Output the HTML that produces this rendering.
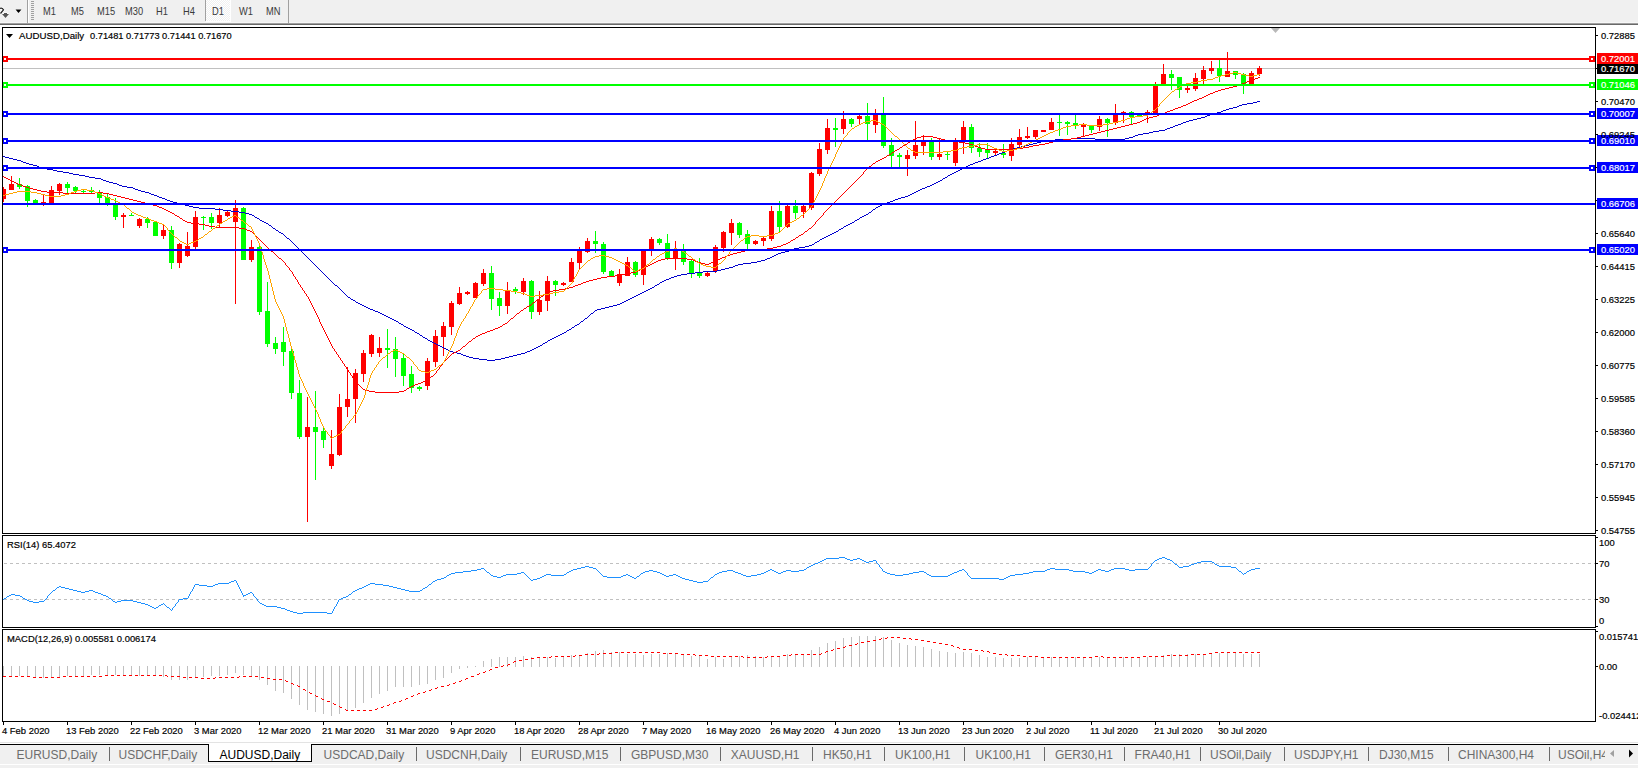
<!DOCTYPE html>
<html><head><meta charset="utf-8"><style>
html,body{margin:0;padding:0;width:1638px;height:768px;overflow:hidden;background:#FFFFFF;position:relative;font-family:"Liberation Sans", sans-serif}
</style></head><body>
<div style="position:absolute;left:0;top:0;width:1638px;height:23px;background:#F0F0F0"></div><div style="position:absolute;left:0;top:22px;width:1638px;height:1px;background:#F7F7F7"></div><div style="position:absolute;left:0;top:23px;width:1638px;height:1px;background:#A0A0A0"></div><div style="position:absolute;left:0;top:24px;width:1638px;height:1px;background:#696969"></div><div style="position:absolute;left:27px;top:0;width:1px;height:23px;background:#A0A0A0"></div><div style="position:absolute;left:28px;top:0;width:1px;height:23px;background:#FFFFFF"></div><div style="position:absolute;left:288px;top:0;width:1px;height:23px;background:#A0A0A0"></div><div style="position:absolute;left:31px;top:1px;width:3px;height:1px;background:#A0A0A0"></div><div style="position:absolute;left:31px;top:3px;width:3px;height:1px;background:#A0A0A0"></div><div style="position:absolute;left:31px;top:5px;width:3px;height:1px;background:#A0A0A0"></div><div style="position:absolute;left:31px;top:7px;width:3px;height:1px;background:#A0A0A0"></div><div style="position:absolute;left:31px;top:9px;width:3px;height:1px;background:#A0A0A0"></div><div style="position:absolute;left:31px;top:11px;width:3px;height:1px;background:#A0A0A0"></div><div style="position:absolute;left:31px;top:13px;width:3px;height:1px;background:#A0A0A0"></div><div style="position:absolute;left:31px;top:15px;width:3px;height:1px;background:#A0A0A0"></div><div style="position:absolute;left:31px;top:17px;width:3px;height:1px;background:#A0A0A0"></div><div style="position:absolute;left:31px;top:19px;width:3px;height:1px;background:#A0A0A0"></div><div style="position:absolute;left:205px;top:0;width:1px;height:21px;background:#A0A0A0"></div><svg width="26" height="22" style="position:absolute;left:206px;top:0"><defs><pattern id="chk" width="2" height="2" patternUnits="userSpaceOnUse"><rect width="2" height="2" fill="#F0F0F0"/><rect width="1" height="1" fill="#FFFFFF"/><rect x="1" y="1" width="1" height="1" fill="#FFFFFF"/></pattern></defs><rect x="0" y="0" width="24" height="21" fill="url(#chk)" shape-rendering="crispEdges"/><rect x="24" y="0" width="1" height="22" fill="#FFFFFF"/><rect x="0" y="21" width="25" height="1" fill="#FFFFFF"/></svg><svg width="1638" height="30" style="position:absolute;left:0;top:0" font-family='"Liberation Sans", sans-serif'><text transform="translate(43,15) scale(0.93,1)" font-size="10" fill="#3A3A3A">M1</text><text transform="translate(71,15) scale(0.93,1)" font-size="10" fill="#3A3A3A">M5</text><text transform="translate(97,15) scale(0.93,1)" font-size="10" fill="#3A3A3A">M15</text><text transform="translate(125,15) scale(0.93,1)" font-size="10" fill="#3A3A3A">M30</text><text transform="translate(156,15) scale(0.93,1)" font-size="10" fill="#3A3A3A">H1</text><text transform="translate(183,15) scale(0.93,1)" font-size="10" fill="#3A3A3A">H4</text><text transform="translate(212,15) scale(0.93,1)" font-size="10" fill="#3A3A3A">D1</text><text transform="translate(239,15) scale(0.93,1)" font-size="10" fill="#3A3A3A">W1</text><text transform="translate(266,15) scale(0.93,1)" font-size="10" fill="#3A3A3A">MN</text><path d="M15.5,9.5 L21.5,9.5 L18.5,13 Z" fill="#000" stroke="#FFF" stroke-width="1" paint-order="stroke"/><path d="M0,8.5 Q2,7.5 3.5,9.8 L0.5,13.5" fill="none" stroke="#FFF" stroke-width="2.6"/><path d="M0,8.5 Q2,7.5 3.5,9.8 L0.5,13.5" fill="none" stroke="#222" stroke-width="1.3"/><path d="M2,14 L9,14 L5.5,18 Z M4,13 h3 v1.5 h-3 z" fill="#555" stroke="#FFF" stroke-width="1" paint-order="stroke"/></svg><svg width="1638" height="768" style="position:absolute;left:0;top:0"><defs><clipPath id="cm"><rect x="3" y="28" width="1592" height="505"/></clipPath><clipPath id="cr"><rect x="3" y="536" width="1592" height="91"/></clipPath><clipPath id="cd"><rect x="3" y="630" width="1592" height="91"/></clipPath></defs><rect x="3" y="68" width="1592" height="1" fill="#C0C0C0" shape-rendering="crispEdges"/><g clip-path="url(#cm)" shape-rendering="crispEdges"><rect x="3" y="187" width="1" height="15" fill="#FF0000"/><rect x="1" y="189" width="5" height="10" fill="#FF0000"/><rect x="11" y="176" width="1" height="14" fill="#FF0000"/><rect x="9" y="184" width="5" height="6" fill="#FF0000"/><rect x="19" y="178" width="1" height="11" fill="#00FF00"/><rect x="17" y="184" width="5" height="3" fill="#00FF00"/><rect x="27" y="185" width="1" height="22" fill="#00FF00"/><rect x="25" y="186" width="5" height="15" fill="#00FF00"/><rect x="35" y="199" width="1" height="6" fill="#00FF00"/><rect x="33" y="200" width="5" height="4" fill="#00FF00"/><rect x="43" y="194" width="1" height="12" fill="#FF0000"/><rect x="41" y="202" width="5" height="1" fill="#FF0000"/><rect x="51" y="186" width="1" height="17" fill="#FF0000"/><rect x="49" y="190" width="5" height="13" fill="#FF0000"/><rect x="59" y="183" width="1" height="12" fill="#FF0000"/><rect x="57" y="184" width="5" height="7" fill="#FF0000"/><rect x="67" y="182" width="1" height="13" fill="#00FF00"/><rect x="65" y="184" width="5" height="4" fill="#00FF00"/><rect x="75" y="186" width="1" height="7" fill="#00FF00"/><rect x="73" y="187" width="5" height="4" fill="#00FF00"/><rect x="83" y="190" width="1" height="3" fill="#00FF00"/><rect x="81" y="191" width="5" height="1" fill="#00FF00"/><rect x="91" y="187" width="1" height="6" fill="#00FF00"/><rect x="89" y="190" width="5" height="2" fill="#00FF00"/><rect x="99" y="190" width="1" height="13" fill="#00FF00"/><rect x="97" y="193" width="5" height="5" fill="#00FF00"/><rect x="107" y="194" width="1" height="12" fill="#00FF00"/><rect x="105" y="197" width="5" height="6" fill="#00FF00"/><rect x="115" y="198" width="1" height="22" fill="#00FF00"/><rect x="113" y="204" width="5" height="13" fill="#00FF00"/><rect x="123" y="213" width="1" height="15" fill="#FF0000"/><rect x="121" y="215" width="5" height="2" fill="#FF0000"/><rect x="131" y="213" width="1" height="3" fill="#00FF00"/><rect x="129" y="215" width="5" height="1" fill="#00FF00"/><rect x="139" y="218" width="1" height="10" fill="#FF0000"/><rect x="137" y="219" width="5" height="7" fill="#FF0000"/><rect x="147" y="217" width="1" height="11" fill="#00FF00"/><rect x="145" y="219" width="5" height="4" fill="#00FF00"/><rect x="155" y="221" width="1" height="15" fill="#00FF00"/><rect x="153" y="222" width="5" height="14" fill="#00FF00"/><rect x="163" y="225" width="1" height="14" fill="#FF0000"/><rect x="161" y="230" width="5" height="6" fill="#FF0000"/><rect x="171" y="226" width="1" height="43" fill="#00FF00"/><rect x="169" y="230" width="5" height="33" fill="#00FF00"/><rect x="179" y="243" width="1" height="25" fill="#FF0000"/><rect x="177" y="244" width="5" height="19" fill="#FF0000"/><rect x="187" y="232" width="1" height="25" fill="#FF0000"/><rect x="185" y="246" width="5" height="10" fill="#FF0000"/><rect x="195" y="211" width="1" height="38" fill="#FF0000"/><rect x="193" y="217" width="5" height="30" fill="#FF0000"/><rect x="203" y="216" width="1" height="14" fill="#00FF00"/><rect x="201" y="217" width="5" height="1" fill="#00FF00"/><rect x="211" y="213" width="1" height="16" fill="#00FF00"/><rect x="209" y="217" width="5" height="6" fill="#00FF00"/><rect x="219" y="208" width="1" height="20" fill="#FF0000"/><rect x="217" y="215" width="5" height="8" fill="#FF0000"/><rect x="227" y="211" width="1" height="6" fill="#FF0000"/><rect x="225" y="212" width="5" height="4" fill="#FF0000"/><rect x="235" y="200" width="1" height="104" fill="#FF0000"/><rect x="233" y="208" width="5" height="14" fill="#FF0000"/><rect x="243" y="207" width="1" height="53" fill="#00FF00"/><rect x="241" y="208" width="5" height="52" fill="#00FF00"/><rect x="251" y="240" width="1" height="22" fill="#FF0000"/><rect x="249" y="247" width="5" height="13" fill="#FF0000"/><rect x="259" y="244" width="1" height="71" fill="#00FF00"/><rect x="257" y="247" width="5" height="65" fill="#00FF00"/><rect x="267" y="282" width="1" height="65" fill="#00FF00"/><rect x="265" y="311" width="5" height="33" fill="#00FF00"/><rect x="275" y="337" width="1" height="17" fill="#00FF00"/><rect x="273" y="343" width="5" height="6" fill="#00FF00"/><rect x="283" y="327" width="1" height="39" fill="#00FF00"/><rect x="281" y="342" width="5" height="10" fill="#00FF00"/><rect x="291" y="346" width="1" height="53" fill="#00FF00"/><rect x="289" y="351" width="5" height="42" fill="#00FF00"/><rect x="299" y="380" width="1" height="59" fill="#00FF00"/><rect x="297" y="393" width="5" height="44" fill="#00FF00"/><rect x="307" y="397" width="1" height="125" fill="#FF0000"/><rect x="305" y="427" width="5" height="10" fill="#FF0000"/><rect x="315" y="391" width="1" height="89" fill="#00FF00"/><rect x="313" y="427" width="5" height="5" fill="#00FF00"/><rect x="323" y="427" width="1" height="21" fill="#00FF00"/><rect x="321" y="431" width="5" height="9" fill="#00FF00"/><rect x="331" y="430" width="1" height="39" fill="#FF0000"/><rect x="329" y="454" width="5" height="12" fill="#FF0000"/><rect x="339" y="394" width="1" height="62" fill="#FF0000"/><rect x="337" y="407" width="5" height="48" fill="#FF0000"/><rect x="347" y="367" width="1" height="50" fill="#FF0000"/><rect x="345" y="399" width="5" height="8" fill="#FF0000"/><rect x="355" y="369" width="1" height="54" fill="#FF0000"/><rect x="353" y="373" width="5" height="26" fill="#FF0000"/><rect x="363" y="350" width="1" height="32" fill="#FF0000"/><rect x="361" y="353" width="5" height="21" fill="#FF0000"/><rect x="371" y="334" width="1" height="23" fill="#FF0000"/><rect x="369" y="335" width="5" height="19" fill="#FF0000"/><rect x="379" y="337" width="1" height="20" fill="#FF0000"/><rect x="377" y="348" width="5" height="5" fill="#FF0000"/><rect x="387" y="329" width="1" height="39" fill="#00FF00"/><rect x="385" y="348" width="5" height="2" fill="#00FF00"/><rect x="395" y="337" width="1" height="40" fill="#00FF00"/><rect x="393" y="349" width="5" height="10" fill="#00FF00"/><rect x="403" y="354" width="1" height="32" fill="#00FF00"/><rect x="401" y="358" width="5" height="18" fill="#00FF00"/><rect x="411" y="366" width="1" height="27" fill="#00FF00"/><rect x="409" y="374" width="5" height="14" fill="#00FF00"/><rect x="419" y="386" width="1" height="5" fill="#00FF00"/><rect x="417" y="387" width="5" height="2" fill="#00FF00"/><rect x="427" y="358" width="1" height="32" fill="#FF0000"/><rect x="425" y="361" width="5" height="25" fill="#FF0000"/><rect x="435" y="330" width="1" height="37" fill="#FF0000"/><rect x="433" y="336" width="5" height="26" fill="#FF0000"/><rect x="443" y="322" width="1" height="34" fill="#FF0000"/><rect x="441" y="326" width="5" height="11" fill="#FF0000"/><rect x="451" y="301" width="1" height="34" fill="#FF0000"/><rect x="449" y="303" width="5" height="24" fill="#FF0000"/><rect x="459" y="287" width="1" height="18" fill="#FF0000"/><rect x="457" y="293" width="5" height="11" fill="#FF0000"/><rect x="467" y="291" width="1" height="4" fill="#FF0000"/><rect x="465" y="292" width="5" height="2" fill="#FF0000"/><rect x="475" y="282" width="1" height="16" fill="#FF0000"/><rect x="473" y="283" width="5" height="15" fill="#FF0000"/><rect x="483" y="269" width="1" height="17" fill="#FF0000"/><rect x="481" y="273" width="5" height="11" fill="#FF0000"/><rect x="491" y="266" width="1" height="44" fill="#00FF00"/><rect x="489" y="273" width="5" height="26" fill="#00FF00"/><rect x="499" y="292" width="1" height="24" fill="#00FF00"/><rect x="497" y="298" width="5" height="8" fill="#00FF00"/><rect x="507" y="282" width="1" height="32" fill="#FF0000"/><rect x="505" y="291" width="5" height="15" fill="#FF0000"/><rect x="515" y="287" width="1" height="7" fill="#00FF00"/><rect x="513" y="289" width="5" height="2" fill="#00FF00"/><rect x="523" y="278" width="1" height="17" fill="#FF0000"/><rect x="521" y="281" width="5" height="11" fill="#FF0000"/><rect x="531" y="280" width="1" height="39" fill="#00FF00"/><rect x="529" y="281" width="5" height="31" fill="#00FF00"/><rect x="539" y="291" width="1" height="24" fill="#FF0000"/><rect x="537" y="300" width="5" height="12" fill="#FF0000"/><rect x="547" y="276" width="1" height="35" fill="#FF0000"/><rect x="545" y="281" width="5" height="20" fill="#FF0000"/><rect x="555" y="280" width="1" height="16" fill="#00FF00"/><rect x="553" y="281" width="5" height="4" fill="#00FF00"/><rect x="563" y="282" width="1" height="4" fill="#FF0000"/><rect x="561" y="283" width="5" height="2" fill="#FF0000"/><rect x="571" y="258" width="1" height="24" fill="#FF0000"/><rect x="569" y="262" width="5" height="20" fill="#FF0000"/><rect x="579" y="247" width="1" height="22" fill="#FF0000"/><rect x="577" y="251" width="5" height="12" fill="#FF0000"/><rect x="587" y="238" width="1" height="15" fill="#FF0000"/><rect x="585" y="241" width="5" height="11" fill="#FF0000"/><rect x="595" y="231" width="1" height="22" fill="#00FF00"/><rect x="593" y="241" width="5" height="3" fill="#00FF00"/><rect x="603" y="242" width="1" height="32" fill="#00FF00"/><rect x="601" y="244" width="5" height="28" fill="#00FF00"/><rect x="611" y="270" width="1" height="7" fill="#00FF00"/><rect x="609" y="271" width="5" height="5" fill="#00FF00"/><rect x="619" y="269" width="1" height="17" fill="#FF0000"/><rect x="617" y="274" width="5" height="9" fill="#FF0000"/><rect x="627" y="257" width="1" height="19" fill="#FF0000"/><rect x="625" y="262" width="5" height="14" fill="#FF0000"/><rect x="635" y="261" width="1" height="16" fill="#00FF00"/><rect x="633" y="262" width="5" height="13" fill="#00FF00"/><rect x="643" y="250" width="1" height="35" fill="#FF0000"/><rect x="641" y="251" width="5" height="24" fill="#FF0000"/><rect x="651" y="237" width="1" height="19" fill="#FF0000"/><rect x="649" y="239" width="5" height="12" fill="#FF0000"/><rect x="659" y="238" width="1" height="7" fill="#00FF00"/><rect x="657" y="239" width="5" height="4" fill="#00FF00"/><rect x="667" y="234" width="1" height="26" fill="#00FF00"/><rect x="665" y="243" width="5" height="16" fill="#00FF00"/><rect x="675" y="241" width="1" height="29" fill="#FF0000"/><rect x="673" y="250" width="5" height="8" fill="#FF0000"/><rect x="683" y="244" width="1" height="21" fill="#00FF00"/><rect x="681" y="251" width="5" height="11" fill="#00FF00"/><rect x="691" y="260" width="1" height="18" fill="#00FF00"/><rect x="689" y="261" width="5" height="12" fill="#00FF00"/><rect x="699" y="258" width="1" height="20" fill="#00FF00"/><rect x="697" y="273" width="5" height="3" fill="#00FF00"/><rect x="707" y="272" width="1" height="5" fill="#FF0000"/><rect x="705" y="273" width="5" height="3" fill="#FF0000"/><rect x="715" y="245" width="1" height="28" fill="#FF0000"/><rect x="713" y="247" width="5" height="24" fill="#FF0000"/><rect x="723" y="231" width="1" height="21" fill="#FF0000"/><rect x="721" y="232" width="5" height="16" fill="#FF0000"/><rect x="731" y="219" width="1" height="26" fill="#FF0000"/><rect x="729" y="223" width="5" height="10" fill="#FF0000"/><rect x="739" y="222" width="1" height="16" fill="#00FF00"/><rect x="737" y="223" width="5" height="12" fill="#00FF00"/><rect x="747" y="230" width="1" height="19" fill="#00FF00"/><rect x="745" y="234" width="5" height="10" fill="#00FF00"/><rect x="755" y="240" width="1" height="5" fill="#FF0000"/><rect x="753" y="241" width="5" height="3" fill="#FF0000"/><rect x="763" y="237" width="1" height="9" fill="#FF0000"/><rect x="761" y="238" width="5" height="3" fill="#FF0000"/><rect x="771" y="206" width="1" height="35" fill="#FF0000"/><rect x="769" y="211" width="5" height="28" fill="#FF0000"/><rect x="779" y="201" width="1" height="31" fill="#00FF00"/><rect x="777" y="211" width="5" height="16" fill="#00FF00"/><rect x="787" y="205" width="1" height="23" fill="#FF0000"/><rect x="785" y="206" width="5" height="21" fill="#FF0000"/><rect x="795" y="200" width="1" height="19" fill="#00FF00"/><rect x="793" y="206" width="5" height="7" fill="#00FF00"/><rect x="803" y="205" width="1" height="13" fill="#FF0000"/><rect x="801" y="206" width="5" height="6" fill="#FF0000"/><rect x="811" y="172" width="1" height="38" fill="#FF0000"/><rect x="809" y="173" width="5" height="35" fill="#FF0000"/><rect x="819" y="143" width="1" height="33" fill="#FF0000"/><rect x="817" y="149" width="5" height="25" fill="#FF0000"/><rect x="827" y="119" width="1" height="35" fill="#FF0000"/><rect x="825" y="128" width="5" height="22" fill="#FF0000"/><rect x="835" y="118" width="1" height="29" fill="#00FF00"/><rect x="833" y="128" width="5" height="2" fill="#00FF00"/><rect x="843" y="111" width="1" height="23" fill="#FF0000"/><rect x="841" y="119" width="5" height="10" fill="#FF0000"/><rect x="851" y="118" width="1" height="9" fill="#00FF00"/><rect x="849" y="119" width="5" height="5" fill="#00FF00"/><rect x="859" y="114" width="1" height="11" fill="#FF0000"/><rect x="857" y="116" width="5" height="3" fill="#FF0000"/><rect x="867" y="103" width="1" height="39" fill="#00FF00"/><rect x="865" y="116" width="5" height="8" fill="#00FF00"/><rect x="875" y="109" width="1" height="24" fill="#FF0000"/><rect x="873" y="114" width="5" height="11" fill="#FF0000"/><rect x="883" y="97" width="1" height="51" fill="#00FF00"/><rect x="881" y="114" width="5" height="32" fill="#00FF00"/><rect x="891" y="138" width="1" height="31" fill="#00FF00"/><rect x="889" y="145" width="5" height="11" fill="#00FF00"/><rect x="899" y="153" width="1" height="14" fill="#00FF00"/><rect x="897" y="155" width="5" height="2" fill="#00FF00"/><rect x="907" y="150" width="1" height="26" fill="#FF0000"/><rect x="905" y="155" width="5" height="4" fill="#FF0000"/><rect x="915" y="121" width="1" height="38" fill="#FF0000"/><rect x="913" y="145" width="5" height="11" fill="#FF0000"/><rect x="923" y="135" width="1" height="20" fill="#FF0000"/><rect x="921" y="141" width="5" height="5" fill="#FF0000"/><rect x="931" y="138" width="1" height="22" fill="#00FF00"/><rect x="929" y="141" width="5" height="16" fill="#00FF00"/><rect x="939" y="139" width="1" height="21" fill="#FF0000"/><rect x="937" y="154" width="5" height="3" fill="#FF0000"/><rect x="947" y="151" width="1" height="9" fill="#00FF00"/><rect x="945" y="154" width="5" height="1" fill="#00FF00"/><rect x="955" y="138" width="1" height="28" fill="#FF0000"/><rect x="953" y="141" width="5" height="22" fill="#FF0000"/><rect x="963" y="121" width="1" height="33" fill="#FF0000"/><rect x="961" y="127" width="5" height="14" fill="#FF0000"/><rect x="971" y="124" width="1" height="29" fill="#00FF00"/><rect x="969" y="127" width="5" height="21" fill="#00FF00"/><rect x="979" y="143" width="1" height="14" fill="#00FF00"/><rect x="977" y="148" width="5" height="4" fill="#00FF00"/><rect x="987" y="143" width="1" height="16" fill="#00FF00"/><rect x="985" y="150" width="5" height="3" fill="#00FF00"/><rect x="995" y="149" width="1" height="7" fill="#FF0000"/><rect x="993" y="151" width="5" height="2" fill="#FF0000"/><rect x="1003" y="144" width="1" height="14" fill="#00FF00"/><rect x="1001" y="153" width="5" height="2" fill="#00FF00"/><rect x="1011" y="138" width="1" height="23" fill="#FF0000"/><rect x="1009" y="144" width="5" height="12" fill="#FF0000"/><rect x="1019" y="129" width="1" height="18" fill="#FF0000"/><rect x="1017" y="137" width="5" height="8" fill="#FF0000"/><rect x="1027" y="127" width="1" height="12" fill="#FF0000"/><rect x="1025" y="136" width="5" height="2" fill="#FF0000"/><rect x="1035" y="130" width="1" height="9" fill="#FF0000"/><rect x="1033" y="130" width="5" height="7" fill="#FF0000"/><rect x="1043" y="130" width="1" height="2" fill="#FF0000"/><rect x="1041" y="130" width="5" height="2" fill="#FF0000"/><rect x="1051" y="118" width="1" height="12" fill="#FF0000"/><rect x="1049" y="122" width="5" height="8" fill="#FF0000"/><rect x="1059" y="115" width="1" height="21" fill="#00FF00"/><rect x="1057" y="122" width="5" height="1" fill="#00FF00"/><rect x="1067" y="121" width="1" height="14" fill="#00FF00"/><rect x="1065" y="122" width="5" height="2" fill="#00FF00"/><rect x="1075" y="115" width="1" height="14" fill="#00FF00"/><rect x="1073" y="123" width="5" height="3" fill="#00FF00"/><rect x="1083" y="123" width="1" height="13" fill="#FF0000"/><rect x="1081" y="125" width="5" height="2" fill="#FF0000"/><rect x="1091" y="125" width="1" height="8" fill="#00FF00"/><rect x="1089" y="126" width="5" height="4" fill="#00FF00"/><rect x="1099" y="116" width="1" height="15" fill="#FF0000"/><rect x="1097" y="119" width="5" height="8" fill="#FF0000"/><rect x="1107" y="118" width="1" height="19" fill="#00FF00"/><rect x="1105" y="119" width="5" height="4" fill="#00FF00"/><rect x="1115" y="104" width="1" height="21" fill="#FF0000"/><rect x="1113" y="115" width="5" height="8" fill="#FF0000"/><rect x="1123" y="111" width="1" height="12" fill="#FF0000"/><rect x="1121" y="112" width="5" height="1" fill="#FF0000"/><rect x="1131" y="111" width="1" height="14" fill="#00FF00"/><rect x="1129" y="112" width="5" height="5" fill="#00FF00"/><rect x="1139" y="114" width="1" height="3" fill="#00FF00"/><rect x="1137" y="114" width="5" height="2" fill="#00FF00"/><rect x="1147" y="110" width="1" height="13" fill="#FF0000"/><rect x="1145" y="112" width="5" height="1" fill="#FF0000"/><rect x="1155" y="82" width="1" height="32" fill="#FF0000"/><rect x="1153" y="86" width="5" height="28" fill="#FF0000"/><rect x="1163" y="64" width="1" height="20" fill="#FF0000"/><rect x="1161" y="74" width="5" height="10" fill="#FF0000"/><rect x="1171" y="70" width="1" height="20" fill="#00FF00"/><rect x="1169" y="74" width="5" height="4" fill="#00FF00"/><rect x="1179" y="77" width="1" height="21" fill="#00FF00"/><rect x="1177" y="77" width="5" height="13" fill="#00FF00"/><rect x="1187" y="86" width="1" height="7" fill="#FF0000"/><rect x="1185" y="88" width="5" height="2" fill="#FF0000"/><rect x="1195" y="73" width="1" height="18" fill="#FF0000"/><rect x="1193" y="78" width="5" height="11" fill="#FF0000"/><rect x="1203" y="66" width="1" height="18" fill="#FF0000"/><rect x="1201" y="70" width="5" height="9" fill="#FF0000"/><rect x="1211" y="61" width="1" height="13" fill="#FF0000"/><rect x="1209" y="68" width="5" height="3" fill="#FF0000"/><rect x="1219" y="60" width="1" height="22" fill="#00FF00"/><rect x="1217" y="68" width="5" height="8" fill="#00FF00"/><rect x="1227" y="52" width="1" height="25" fill="#FF0000"/><rect x="1225" y="71" width="5" height="6" fill="#FF0000"/><rect x="1235" y="71" width="1" height="8" fill="#00FF00"/><rect x="1233" y="71" width="5" height="4" fill="#00FF00"/><rect x="1243" y="73" width="1" height="21" fill="#00FF00"/><rect x="1241" y="74" width="5" height="10" fill="#00FF00"/><rect x="1251" y="71" width="1" height="13" fill="#FF0000"/><rect x="1249" y="73" width="5" height="11" fill="#FF0000"/><rect x="1259" y="66" width="1" height="10" fill="#FF0000"/><rect x="1257" y="68" width="5" height="6" fill="#FF0000"/></g><g shape-rendering="crispEdges"><path d="M1257 101h3v1h-3zM1253 102h4v1h-4zM1247 103h6v1h-6zM1242 104h5v1h-5zM1239 105h3v1h-3zM1237 106h2v1h-2zM1233 107h4v1h-4zM1229 108h4v1h-4zM1226 109h3v1h-3zM1223 110h3v1h-3zM1221 111h2v1h-2zM1217 112h4v1h-4zM1213 113h4v1h-4zM1210 114h3v1h-3zM1207 115h3v1h-3zM1205 116h2v1h-2zM1201 117h4v1h-4zM1197 118h4v1h-4zM1193 119h4v1h-4zM1189 120h4v1h-4zM1186 121h3v1h-3zM1183 122h3v1h-3zM1181 123h2v1h-2zM1178 124h3v1h-3zM1175 125h3v1h-3zM1173 126h2v1h-2zM1170 127h3v1h-3zM1167 128h3v1h-3zM1165 129h2v1h-2zM1159 130h6v1h-6zM1153 131h6v1h-6zM1149 132h4v1h-4zM1143 133h6v1h-6zM1138 134h5v1h-5zM1135 135h3v1h-3zM1133 136h2v1h-2zM1129 137h4v1h-4zM1071 138h24v1h-24zM1125 138h4v1h-4zM1055 139h16v1h-16zM1095 139h30v1h-30zM1047 140h8v1h-8zM1041 141h6v1h-6zM1037 142h4v1h-4zM1033 143h4v1h-4zM1029 144h4v1h-4zM1025 145h4v1h-4zM1021 146h4v1h-4zM1017 147h4v1h-4zM1013 148h4v1h-4zM1010 149h3v1h-3zM1007 150h3v1h-3zM1005 151h2v1h-2zM1002 152h3v1h-3zM999 153h3v1h-3zM997 154h2v1h-2zM994 155h3v1h-3zM3 156h2v1h-2zM991 156h3v1h-3zM5 157h4v1h-4zM989 157h2v1h-2zM9 158h4v1h-4zM986 158h3v1h-3zM13 159h4v1h-4zM983 159h3v1h-3zM17 160h4v1h-4zM981 160h2v1h-2zM21 161h2v1h-2zM978 161h3v1h-3zM23 162h3v1h-3zM975 162h3v1h-3zM26 163h3v1h-3zM973 163h2v1h-2zM29 164h4v1h-4zM970 164h3v1h-3zM33 165h4v1h-4zM968 165h2v1h-2zM37 166h2v1h-2zM966 166h2v1h-2zM39 167h3v1h-3zM964 167h2v1h-2zM42 168h5v1h-5zM962 168h2v1h-2zM47 169h6v1h-6zM960 169h2v1h-2zM53 170h4v1h-4zM958 170h2v1h-2zM57 171h6v1h-6zM956 171h2v1h-2zM63 172h6v1h-6zM954 172h2v1h-2zM69 173h4v1h-4zM952 173h2v1h-2zM73 174h6v1h-6zM950 174h2v1h-2zM79 175h6v1h-6zM948 175h2v1h-2zM85 176h4v1h-4zM947 176h1v1h-1zM89 177h6v1h-6zM945 177h2v1h-2zM95 178h6v1h-6zM943 178h2v1h-2zM101 179h2v1h-2zM942 179h1v1h-1zM103 180h3v1h-3zM940 180h2v1h-2zM106 181h3v1h-3zM938 181h2v1h-2zM109 182h4v1h-4zM936 182h2v1h-2zM113 183h4v1h-4zM934 183h2v1h-2zM117 184h2v1h-2zM932 184h2v1h-2zM119 185h3v1h-3zM930 185h2v1h-2zM122 186h5v1h-5zM927 186h3v1h-3zM127 187h6v1h-6zM925 187h2v1h-2zM133 188h2v1h-2zM922 188h3v1h-3zM135 189h3v1h-3zM920 189h2v1h-2zM138 190h3v1h-3zM918 190h2v1h-2zM141 191h4v1h-4zM916 191h2v1h-2zM145 192h4v1h-4zM914 192h2v1h-2zM149 193h2v1h-2zM912 193h2v1h-2zM151 194h3v1h-3zM910 194h2v1h-2zM154 195h3v1h-3zM908 195h2v1h-2zM157 196h2v1h-2zM905 196h3v1h-3zM159 197h3v1h-3zM901 197h4v1h-4zM162 198h3v1h-3zM898 198h3v1h-3zM165 199h2v1h-2zM895 199h3v1h-3zM167 200h3v1h-3zM893 200h2v1h-2zM170 201h3v1h-3zM890 201h3v1h-3zM173 202h4v1h-4zM887 202h3v1h-3zM177 203h4v1h-4zM885 203h2v1h-2zM181 204h4v1h-4zM882 204h3v1h-3zM185 205h4v1h-4zM880 205h2v1h-2zM189 206h4v1h-4zM878 206h2v1h-2zM193 207h6v1h-6zM876 207h2v1h-2zM199 208h16v1h-16zM875 208h1v1h-1zM215 209h8v1h-8zM873 209h2v1h-2zM223 210h8v1h-8zM872 210h1v1h-1zM231 211h8v1h-8zM871 211h1v1h-1zM239 212h6v1h-6zM869 212h2v1h-2zM245 213h4v1h-4zM868 213h1v1h-1zM249 214h3v1h-3zM866 214h2v1h-2zM252 215h2v1h-2zM864 215h2v1h-2zM254 216h1v1h-1zM862 216h2v1h-2zM255 217h2v1h-2zM860 217h2v1h-2zM257 218h2v1h-2zM859 218h1v1h-1zM259 219h1v1h-1zM857 219h2v1h-2zM260 220h2v1h-2zM855 220h2v1h-2zM262 221h2v1h-2zM854 221h1v1h-1zM264 222h2v1h-2zM852 222h2v1h-2zM266 223h2v1h-2zM850 223h2v1h-2zM268 224h1v1h-1zM848 224h2v1h-2zM269 225h2v1h-2zM846 225h2v1h-2zM271 226h1v1h-1zM844 226h2v1h-2zM272 227h1v1h-1zM843 227h1v1h-1zM273 228h2v1h-2zM841 228h2v1h-2zM275 229h1v1h-1zM839 229h2v1h-2zM276 230h2v1h-2zM838 230h1v1h-1zM278 231h1v1h-1zM836 231h2v1h-2zM279 232h2v1h-2zM834 232h2v1h-2zM281 233h2v1h-2zM832 233h2v1h-2zM283 234h1v1h-1zM830 234h2v1h-2zM284 235h1v1h-1zM828 235h2v1h-2zM285 236h1v1h-1zM826 236h2v1h-2zM286 237h1v1h-1zM824 237h2v1h-2zM287 238h2v1h-2zM822 238h2v1h-2zM289 239h1v1h-1zM820 239h2v1h-2zM290 240h1v1h-1zM819 240h1v1h-1zM291 241h1v1h-1zM817 241h2v1h-2zM292 242h1v1h-1zM815 242h2v1h-2zM293 243h1v1h-1zM814 243h1v1h-1zM294 244h1v1h-1zM812 244h2v1h-2zM295 245h1v1h-1zM809 245h3v1h-3zM296 246h1v1h-1zM805 246h4v1h-4zM297 247h1v1h-1zM799 247h6v1h-6zM298 248h1v1h-1zM794 248h5v1h-5zM299 249h1v1h-1zM791 249h3v1h-3zM300 250h1v1h-1zM789 250h2v1h-2zM301 251h1v1h-1zM785 251h4v1h-4zM302 252h1v1h-1zM781 252h4v1h-4zM303 253h1v1h-1zM778 253h3v1h-3zM304 254h1v1h-1zM776 254h2v1h-2zM305 255h1v1h-1zM774 255h2v1h-2zM306 256h1v1h-1zM772 256h2v1h-2zM307 257h1v1h-1zM770 257h2v1h-2zM308 258h1v1h-1zM767 258h3v1h-3zM309 259h1v1h-1zM765 259h2v1h-2zM310 260h1v1h-1zM761 260h4v1h-4zM311 261h1v1h-1zM757 261h4v1h-4zM312 262h1v1h-1zM751 262h6v1h-6zM313 263h1v1h-1zM743 263h8v1h-8zM314 264h1v1h-1zM738 264h5v1h-5zM315 265h1v1h-1zM735 265h3v1h-3zM316 266h1v1h-1zM733 266h2v1h-2zM317 267h1v1h-1zM729 267h4v1h-4zM318 268h1v1h-1zM725 268h4v1h-4zM319 269h1v1h-1zM721 269h4v1h-4zM320 270h1v1h-1zM717 270h4v1h-4zM321 271h1v1h-1zM703 271h14v1h-14zM322 272h1v1h-1zM695 272h8v1h-8zM323 273h1v1h-1zM687 273h8v1h-8zM324 274h1v1h-1zM681 274h6v1h-6zM325 275h1v1h-1zM677 275h4v1h-4zM326 276h1v1h-1zM674 276h3v1h-3zM327 277h1v1h-1zM671 277h3v1h-3zM328 278h1v1h-1zM669 278h2v1h-2zM329 279h1v1h-1zM666 279h3v1h-3zM330 280h1v1h-1zM664 280h2v1h-2zM331 281h1v1h-1zM662 281h2v1h-2zM332 282h1v1h-1zM660 282h2v1h-2zM333 283h1v1h-1zM659 283h1v1h-1zM334 284h1v1h-1zM657 284h2v1h-2zM335 285h2v1h-2zM655 285h2v1h-2zM337 286h1v1h-1zM654 286h1v1h-1zM338 287h1v1h-1zM652 287h2v1h-2zM339 288h1v1h-1zM650 288h2v1h-2zM340 289h1v1h-1zM648 289h2v1h-2zM341 290h1v1h-1zM646 290h2v1h-2zM342 291h1v1h-1zM644 291h2v1h-2zM343 292h1v1h-1zM642 292h2v1h-2zM344 293h1v1h-1zM640 293h2v1h-2zM345 294h1v1h-1zM638 294h2v1h-2zM346 295h1v1h-1zM636 295h2v1h-2zM347 296h1v1h-1zM634 296h2v1h-2zM348 297h2v1h-2zM632 297h2v1h-2zM350 298h1v1h-1zM630 298h2v1h-2zM351 299h2v1h-2zM628 299h2v1h-2zM353 300h2v1h-2zM626 300h2v1h-2zM355 301h1v1h-1zM624 301h2v1h-2zM356 302h2v1h-2zM622 302h2v1h-2zM358 303h2v1h-2zM620 303h2v1h-2zM360 304h2v1h-2zM617 304h3v1h-3zM362 305h2v1h-2zM613 305h4v1h-4zM364 306h2v1h-2zM609 306h4v1h-4zM366 307h2v1h-2zM605 307h4v1h-4zM368 308h2v1h-2zM601 308h4v1h-4zM370 309h3v1h-3zM597 309h4v1h-4zM373 310h2v1h-2zM595 310h2v1h-2zM375 311h3v1h-3zM594 311h1v1h-1zM378 312h2v1h-2zM593 312h1v1h-1zM380 313h2v1h-2zM591 313h2v1h-2zM382 314h2v1h-2zM590 314h1v1h-1zM384 315h2v1h-2zM589 315h1v1h-1zM386 316h2v1h-2zM588 316h1v1h-1zM388 317h2v1h-2zM587 317h1v1h-1zM390 318h2v1h-2zM585 318h2v1h-2zM392 319h2v1h-2zM584 319h1v1h-1zM394 320h2v1h-2zM583 320h1v1h-1zM396 321h2v1h-2zM581 321h2v1h-2zM398 322h1v1h-1zM580 322h1v1h-1zM399 323h2v1h-2zM579 323h1v1h-1zM401 324h2v1h-2zM577 324h2v1h-2zM403 325h1v1h-1zM575 325h2v1h-2zM404 326h2v1h-2zM574 326h1v1h-1zM406 327h2v1h-2zM572 327h2v1h-2zM408 328h2v1h-2zM571 328h1v1h-1zM410 329h2v1h-2zM569 329h2v1h-2zM412 330h2v1h-2zM567 330h2v1h-2zM414 331h1v1h-1zM566 331h1v1h-1zM415 332h2v1h-2zM564 332h2v1h-2zM417 333h2v1h-2zM562 333h2v1h-2zM419 334h1v1h-1zM560 334h2v1h-2zM420 335h2v1h-2zM558 335h2v1h-2zM422 336h1v1h-1zM556 336h2v1h-2zM423 337h2v1h-2zM554 337h2v1h-2zM425 338h2v1h-2zM552 338h2v1h-2zM427 339h1v1h-1zM550 339h2v1h-2zM428 340h2v1h-2zM548 340h2v1h-2zM430 341h2v1h-2zM547 341h1v1h-1zM432 342h2v1h-2zM545 342h2v1h-2zM434 343h2v1h-2zM543 343h2v1h-2zM436 344h2v1h-2zM542 344h1v1h-1zM438 345h2v1h-2zM540 345h2v1h-2zM440 346h2v1h-2zM538 346h2v1h-2zM442 347h2v1h-2zM536 347h2v1h-2zM444 348h2v1h-2zM534 348h2v1h-2zM446 349h2v1h-2zM532 349h2v1h-2zM448 350h2v1h-2zM530 350h2v1h-2zM450 351h3v1h-3zM527 351h3v1h-3zM453 352h4v1h-4zM525 352h2v1h-2zM457 353h4v1h-4zM521 353h4v1h-4zM461 354h2v1h-2zM517 354h4v1h-4zM463 355h3v1h-3zM513 355h4v1h-4zM466 356h3v1h-3zM509 356h4v1h-4zM469 357h4v1h-4zM505 357h4v1h-4zM473 358h6v1h-6zM501 358h4v1h-4zM479 359h8v1h-8zM495 359h6v1h-6zM487 360h8v1h-8z" fill="#0000CD"/><path d="M1258 77h2v1h-2zM1255 78h3v1h-3zM1253 79h2v1h-2zM1250 80h3v1h-3zM1247 81h3v1h-3zM1245 82h2v1h-2zM1242 83h3v1h-3zM1239 84h3v1h-3zM1237 85h2v1h-2zM1233 86h4v1h-4zM1229 87h4v1h-4zM1225 88h4v1h-4zM1221 89h4v1h-4zM1218 90h3v1h-3zM1215 91h3v1h-3zM1213 92h2v1h-2zM1210 93h3v1h-3zM1208 94h2v1h-2zM1206 95h2v1h-2zM1204 96h2v1h-2zM1202 97h2v1h-2zM1199 98h3v1h-3zM1197 99h2v1h-2zM1194 100h3v1h-3zM1192 101h2v1h-2zM1190 102h2v1h-2zM1188 103h2v1h-2zM1186 104h2v1h-2zM1183 105h3v1h-3zM1181 106h2v1h-2zM1178 107h3v1h-3zM1175 108h3v1h-3zM1173 109h2v1h-2zM1170 110h3v1h-3zM1167 111h3v1h-3zM1165 112h2v1h-2zM1162 113h3v1h-3zM1159 114h3v1h-3zM1157 115h2v1h-2zM1153 116h4v1h-4zM1149 117h4v1h-4zM1146 118h3v1h-3zM1144 119h2v1h-2zM1142 120h2v1h-2zM1140 121h2v1h-2zM1137 122h3v1h-3zM1133 123h4v1h-4zM1129 124h4v1h-4zM1125 125h4v1h-4zM1121 126h4v1h-4zM1117 127h4v1h-4zM1113 128h4v1h-4zM1109 129h4v1h-4zM1105 130h4v1h-4zM1101 131h4v1h-4zM1097 132h4v1h-4zM1093 133h4v1h-4zM1089 134h4v1h-4zM1085 135h4v1h-4zM921 136h12v1h-12zM1081 136h4v1h-4zM917 137h4v1h-4zM933 137h4v1h-4zM1077 137h4v1h-4zM915 138h2v1h-2zM937 138h4v1h-4zM1071 138h6v1h-6zM913 139h2v1h-2zM941 139h4v1h-4zM1063 139h8v1h-8zM911 140h2v1h-2zM945 140h6v1h-6zM1057 140h6v1h-6zM910 141h1v1h-1zM951 141h8v1h-8zM1053 141h4v1h-4zM908 142h2v1h-2zM959 142h6v1h-6zM1049 142h4v1h-4zM907 143h1v1h-1zM965 143h4v1h-4zM1045 143h4v1h-4zM905 144h2v1h-2zM969 144h4v1h-4zM1039 144h6v1h-6zM903 145h2v1h-2zM973 145h2v1h-2zM1033 145h6v1h-6zM902 146h1v1h-1zM975 146h3v1h-3zM1029 146h4v1h-4zM900 147h2v1h-2zM978 147h3v1h-3zM1023 147h6v1h-6zM899 148h1v1h-1zM981 148h4v1h-4zM1015 148h8v1h-8zM897 149h2v1h-2zM985 149h30v1h-30zM895 150h2v1h-2zM894 151h1v1h-1zM892 152h2v1h-2zM891 153h1v1h-1zM889 154h2v1h-2zM887 155h2v1h-2zM886 156h1v1h-1zM884 157h2v1h-2zM882 158h2v1h-2zM880 159h2v1h-2zM878 160h2v1h-2zM876 161h2v1h-2zM875 162h1v1h-1zM873 163h2v1h-2zM872 164h1v1h-1zM871 165h1v1h-1zM869 166h2v1h-2zM868 167h1v1h-1zM867 168h1v1h-1zM866 169h1v1h-1zM865 170h1v1h-1zM864 171h1v1h-1zM863 172h1v1h-1zM863 173h1v1h-1zM862 174h1v1h-1zM861 175h1v1h-1zM3 176h1v1h-1zM860 176h1v1h-1zM4 177h2v1h-2zM859 177h1v1h-1zM6 178h2v1h-2zM858 178h1v1h-1zM8 179h2v1h-2zM857 179h1v1h-1zM10 180h2v1h-2zM856 180h1v1h-1zM12 181h2v1h-2zM855 181h1v1h-1zM14 182h2v1h-2zM854 182h1v1h-1zM16 183h2v1h-2zM853 183h1v1h-1zM18 184h3v1h-3zM852 184h1v1h-1zM21 185h2v1h-2zM851 185h1v1h-1zM23 186h3v1h-3zM850 186h1v1h-1zM26 187h3v1h-3zM849 187h1v1h-1zM29 188h4v1h-4zM848 188h1v1h-1zM33 189h4v1h-4zM847 189h1v1h-1zM37 190h4v1h-4zM846 190h1v1h-1zM41 191h6v1h-6zM845 191h1v1h-1zM47 192h16v1h-16zM95 192h8v1h-8zM844 192h1v1h-1zM63 193h32v1h-32zM103 193h6v1h-6zM843 193h1v1h-1zM109 194h4v1h-4zM842 194h1v1h-1zM113 195h4v1h-4zM841 195h1v1h-1zM117 196h4v1h-4zM840 196h1v1h-1zM121 197h4v1h-4zM839 197h1v1h-1zM125 198h4v1h-4zM838 198h1v1h-1zM129 199h4v1h-4zM837 199h1v1h-1zM133 200h4v1h-4zM836 200h1v1h-1zM137 201h4v1h-4zM835 201h1v1h-1zM141 202h4v1h-4zM834 202h1v1h-1zM145 203h4v1h-4zM833 203h1v1h-1zM149 204h4v1h-4zM832 204h1v1h-1zM153 205h4v1h-4zM831 205h1v1h-1zM157 206h2v1h-2zM830 206h1v1h-1zM159 207h3v1h-3zM829 207h1v1h-1zM162 208h2v1h-2zM828 208h1v1h-1zM164 209h2v1h-2zM827 209h1v1h-1zM166 210h2v1h-2zM826 210h1v1h-1zM168 211h2v1h-2zM825 211h1v1h-1zM170 212h2v1h-2zM824 212h1v1h-1zM172 213h2v1h-2zM823 213h1v1h-1zM174 214h1v1h-1zM823 214h1v1h-1zM175 215h2v1h-2zM822 215h1v1h-1zM177 216h2v1h-2zM821 216h1v1h-1zM179 217h1v1h-1zM820 217h1v1h-1zM180 218h2v1h-2zM819 218h1v1h-1zM182 219h1v1h-1zM818 219h1v1h-1zM183 220h2v1h-2zM817 220h1v1h-1zM185 221h2v1h-2zM816 221h1v1h-1zM187 222h4v1h-4zM815 222h1v1h-1zM191 223h8v1h-8zM815 223h1v1h-1zM199 224h6v1h-6zM814 224h1v1h-1zM205 225h4v1h-4zM813 225h1v1h-1zM209 226h6v1h-6zM812 226h1v1h-1zM215 227h24v1h-24zM811 227h1v1h-1zM239 228h6v1h-6zM809 228h2v1h-2zM245 229h2v1h-2zM808 229h1v1h-1zM247 230h3v1h-3zM807 230h1v1h-1zM250 231h2v1h-2zM805 231h2v1h-2zM252 232h1v1h-1zM804 232h1v1h-1zM253 233h1v1h-1zM803 233h1v1h-1zM254 234h1v1h-1zM801 234h2v1h-2zM255 235h1v1h-1zM799 235h2v1h-2zM256 236h1v1h-1zM798 236h1v1h-1zM257 237h1v1h-1zM796 237h2v1h-2zM258 238h1v1h-1zM795 238h1v1h-1zM259 239h1v1h-1zM793 239h2v1h-2zM260 240h1v1h-1zM791 240h2v1h-2zM261 241h1v1h-1zM790 241h1v1h-1zM262 242h1v1h-1zM788 242h2v1h-2zM263 243h1v1h-1zM786 243h2v1h-2zM264 244h1v1h-1zM783 244h3v1h-3zM265 245h1v1h-1zM781 245h2v1h-2zM266 246h1v1h-1zM777 246h4v1h-4zM267 247h1v1h-1zM773 247h4v1h-4zM268 248h1v1h-1zM767 248h6v1h-6zM269 249h1v1h-1zM759 249h8v1h-8zM270 250h1v1h-1zM745 250h14v1h-14zM271 251h2v1h-2zM741 251h4v1h-4zM273 252h1v1h-1zM737 252h4v1h-4zM274 253h1v1h-1zM733 253h4v1h-4zM275 254h1v1h-1zM730 254h3v1h-3zM276 255h1v1h-1zM727 255h3v1h-3zM277 256h1v1h-1zM725 256h2v1h-2zM278 257h1v1h-1zM722 257h3v1h-3zM279 258h2v1h-2zM665 258h22v1h-22zM720 258h2v1h-2zM281 259h1v1h-1zM661 259h4v1h-4zM687 259h6v1h-6zM718 259h2v1h-2zM282 260h1v1h-1zM658 260h3v1h-3zM693 260h2v1h-2zM716 260h2v1h-2zM283 261h1v1h-1zM656 261h2v1h-2zM695 261h3v1h-3zM714 261h2v1h-2zM284 262h1v1h-1zM654 262h2v1h-2zM698 262h3v1h-3zM711 262h3v1h-3zM285 263h1v1h-1zM652 263h2v1h-2zM701 263h4v1h-4zM709 263h2v1h-2zM285 264h1v1h-1zM650 264h2v1h-2zM705 264h4v1h-4zM286 265h1v1h-1zM648 265h2v1h-2zM287 266h1v1h-1zM646 266h2v1h-2zM288 267h1v1h-1zM644 267h2v1h-2zM289 268h1v1h-1zM642 268h2v1h-2zM289 269h1v1h-1zM640 269h2v1h-2zM290 270h1v1h-1zM638 270h2v1h-2zM291 271h1v1h-1zM636 271h2v1h-2zM292 272h1v1h-1zM631 272h5v1h-5zM292 273h1v1h-1zM625 273h6v1h-6zM293 274h1v1h-1zM621 274h4v1h-4zM293 275h1v1h-1zM615 275h6v1h-6zM294 276h1v1h-1zM607 276h8v1h-8zM295 277h1v1h-1zM601 277h6v1h-6zM295 278h1v1h-1zM597 278h4v1h-4zM296 279h1v1h-1zM593 279h4v1h-4zM297 280h1v1h-1zM589 280h4v1h-4zM297 281h1v1h-1zM586 281h3v1h-3zM298 282h1v1h-1zM583 282h3v1h-3zM298 283h1v1h-1zM581 283h2v1h-2zM299 284h1v1h-1zM578 284h3v1h-3zM300 285h1v1h-1zM575 285h3v1h-3zM300 286h1v1h-1zM573 286h2v1h-2zM301 287h1v1h-1zM569 287h4v1h-4zM302 288h1v1h-1zM565 288h4v1h-4zM302 289h1v1h-1zM559 289h6v1h-6zM303 290h1v1h-1zM553 290h6v1h-6zM304 291h1v1h-1zM549 291h4v1h-4zM304 292h1v1h-1zM547 292h2v1h-2zM305 293h1v1h-1zM545 293h2v1h-2zM306 294h1v1h-1zM544 294h1v1h-1zM306 295h1v1h-1zM543 295h1v1h-1zM307 296h1v1h-1zM541 296h2v1h-2zM308 297h1v1h-1zM540 297h1v1h-1zM308 298h1v1h-1zM539 298h1v1h-1zM309 299h1v1h-1zM537 299h2v1h-2zM309 300h1v1h-1zM536 300h1v1h-1zM310 301h1v1h-1zM535 301h1v1h-1zM310 302h1v1h-1zM533 302h2v1h-2zM311 303h1v1h-1zM532 303h1v1h-1zM311 304h1v1h-1zM531 304h1v1h-1zM312 305h1v1h-1zM529 305h2v1h-2zM312 306h1v1h-1zM527 306h2v1h-2zM313 307h1v1h-1zM526 307h1v1h-1zM313 308h1v1h-1zM524 308h2v1h-2zM314 309h1v1h-1zM523 309h1v1h-1zM314 310h1v1h-1zM521 310h2v1h-2zM315 311h1v1h-1zM520 311h1v1h-1zM315 312h1v1h-1zM519 312h1v1h-1zM316 313h1v1h-1zM517 313h2v1h-2zM316 314h1v1h-1zM516 314h1v1h-1zM317 315h1v1h-1zM515 315h1v1h-1zM317 316h1v1h-1zM514 316h1v1h-1zM318 317h1v1h-1zM513 317h1v1h-1zM318 318h1v1h-1zM511 318h2v1h-2zM319 319h1v1h-1zM510 319h1v1h-1zM319 320h1v1h-1zM509 320h1v1h-1zM319 321h1v1h-1zM508 321h1v1h-1zM320 322h1v1h-1zM507 322h1v1h-1zM320 323h1v1h-1zM505 323h2v1h-2zM321 324h1v1h-1zM503 324h2v1h-2zM321 325h1v1h-1zM502 325h1v1h-1zM322 326h1v1h-1zM500 326h2v1h-2zM322 327h1v1h-1zM498 327h2v1h-2zM323 328h1v1h-1zM495 328h3v1h-3zM323 329h1v1h-1zM493 329h2v1h-2zM324 330h1v1h-1zM490 330h3v1h-3zM324 331h1v1h-1zM487 331h3v1h-3zM325 332h1v1h-1zM485 332h2v1h-2zM325 333h1v1h-1zM482 333h3v1h-3zM326 334h1v1h-1zM480 334h2v1h-2zM326 335h1v1h-1zM478 335h2v1h-2zM327 336h1v1h-1zM476 336h2v1h-2zM327 337h1v1h-1zM475 337h1v1h-1zM328 338h1v1h-1zM473 338h2v1h-2zM328 339h1v1h-1zM472 339h1v1h-1zM329 340h1v1h-1zM471 340h1v1h-1zM329 341h1v1h-1zM469 341h2v1h-2zM330 342h1v1h-1zM468 342h1v1h-1zM330 343h1v1h-1zM467 343h1v1h-1zM331 344h1v1h-1zM466 344h1v1h-1zM331 345h1v1h-1zM465 345h1v1h-1zM332 346h1v1h-1zM463 346h2v1h-2zM332 347h1v1h-1zM462 347h1v1h-1zM333 348h1v1h-1zM461 348h1v1h-1zM334 349h1v1h-1zM460 349h1v1h-1zM334 350h1v1h-1zM458 350h2v1h-2zM335 351h1v1h-1zM456 351h2v1h-2zM336 352h1v1h-1zM454 352h2v1h-2zM336 353h1v1h-1zM452 353h2v1h-2zM337 354h1v1h-1zM451 354h1v1h-1zM338 355h1v1h-1zM450 355h1v1h-1zM338 356h1v1h-1zM449 356h1v1h-1zM339 357h1v1h-1zM448 357h1v1h-1zM340 358h1v1h-1zM447 358h1v1h-1zM340 359h1v1h-1zM446 359h1v1h-1zM341 360h1v1h-1zM445 360h1v1h-1zM342 361h1v1h-1zM444 361h1v1h-1zM342 362h1v1h-1zM443 362h1v1h-1zM343 363h1v1h-1zM442 363h1v1h-1zM344 364h1v1h-1zM442 364h1v1h-1zM344 365h1v1h-1zM441 365h1v1h-1zM345 366h1v1h-1zM440 366h1v1h-1zM346 367h1v1h-1zM439 367h1v1h-1zM346 368h1v1h-1zM439 368h1v1h-1zM347 369h1v1h-1zM438 369h1v1h-1zM348 370h1v1h-1zM437 370h1v1h-1zM348 371h1v1h-1zM436 371h1v1h-1zM349 372h1v1h-1zM436 372h1v1h-1zM350 373h1v1h-1zM435 373h1v1h-1zM350 374h1v1h-1zM434 374h1v1h-1zM351 375h1v1h-1zM433 375h1v1h-1zM352 376h1v1h-1zM431 376h2v1h-2zM352 377h1v1h-1zM430 377h1v1h-1zM353 378h1v1h-1zM429 378h1v1h-1zM354 379h1v1h-1zM428 379h1v1h-1zM354 380h1v1h-1zM426 380h2v1h-2zM355 381h1v1h-1zM423 381h3v1h-3zM356 382h1v1h-1zM421 382h2v1h-2zM357 383h1v1h-1zM418 383h3v1h-3zM358 384h1v1h-1zM415 384h3v1h-3zM359 385h1v1h-1zM413 385h2v1h-2zM360 386h1v1h-1zM411 386h2v1h-2zM361 387h1v1h-1zM409 387h2v1h-2zM362 388h1v1h-1zM407 388h2v1h-2zM363 389h2v1h-2zM406 389h1v1h-1zM365 390h4v1h-4zM404 390h2v1h-2zM369 391h6v1h-6zM399 391h5v1h-5zM375 392h24v1h-24z" fill="#FF0000"/><path d="M1233 72h4v1h-4zM1229 73h4v1h-4zM1237 73h4v1h-4zM1225 74h4v1h-4zM1241 74h4v1h-4zM1257 74h3v1h-3zM1221 75h4v1h-4zM1245 75h4v1h-4zM1253 75h4v1h-4zM1218 76h3v1h-3zM1249 76h4v1h-4zM1215 77h3v1h-3zM1213 78h2v1h-2zM1207 79h6v1h-6zM1201 80h6v1h-6zM1197 81h4v1h-4zM1191 82h6v1h-6zM1186 83h5v1h-5zM1184 84h2v1h-2zM1182 85h2v1h-2zM1180 86h2v1h-2zM1179 87h1v1h-1zM1177 88h2v1h-2zM1175 89h2v1h-2zM1174 90h1v1h-1zM1172 91h2v1h-2zM1171 92h1v1h-1zM1170 93h1v1h-1zM1169 94h1v1h-1zM1168 95h1v1h-1zM1167 96h1v1h-1zM1166 97h1v1h-1zM1165 98h1v1h-1zM1164 99h1v1h-1zM1163 100h1v1h-1zM1162 101h1v1h-1zM1161 102h1v1h-1zM1160 103h1v1h-1zM1159 104h1v1h-1zM1159 105h1v1h-1zM1158 106h1v1h-1zM1157 107h1v1h-1zM1156 108h1v1h-1zM1155 109h1v1h-1zM1153 110h2v1h-2zM1152 111h1v1h-1zM1151 112h1v1h-1zM1149 113h2v1h-2zM1148 114h1v1h-1zM1143 115h5v1h-5zM1135 116h8v1h-8zM1130 117h5v1h-5zM1127 118h3v1h-3zM1125 119h2v1h-2zM871 120h5v1h-5zM1121 120h4v1h-4zM866 121h5v1h-5zM876 121h2v1h-2zM1117 121h4v1h-4zM863 122h3v1h-3zM878 122h2v1h-2zM1113 122h4v1h-4zM861 123h2v1h-2zM880 123h2v1h-2zM1109 123h4v1h-4zM859 124h2v1h-2zM882 124h2v1h-2zM1079 124h8v1h-8zM1103 124h6v1h-6zM857 125h2v1h-2zM884 125h1v1h-1zM1071 125h8v1h-8zM1087 125h16v1h-16zM855 126h2v1h-2zM885 126h1v1h-1zM1066 126h5v1h-5zM854 127h1v1h-1zM886 127h1v1h-1zM1063 127h3v1h-3zM852 128h2v1h-2zM887 128h1v1h-1zM1061 128h2v1h-2zM851 129h1v1h-1zM888 129h1v1h-1zM1058 129h3v1h-3zM850 130h1v1h-1zM889 130h1v1h-1zM1055 130h3v1h-3zM849 131h1v1h-1zM890 131h1v1h-1zM1053 131h2v1h-2zM848 132h1v1h-1zM891 132h1v1h-1zM1050 132h3v1h-3zM847 133h1v1h-1zM892 133h1v1h-1zM1048 133h2v1h-2zM847 134h1v1h-1zM893 134h1v1h-1zM1046 134h2v1h-2zM846 135h1v1h-1zM894 135h1v1h-1zM1044 135h2v1h-2zM845 136h1v1h-1zM895 136h2v1h-2zM1042 136h2v1h-2zM844 137h1v1h-1zM897 137h1v1h-1zM1040 137h2v1h-2zM843 138h1v1h-1zM898 138h1v1h-1zM1038 138h2v1h-2zM843 139h1v1h-1zM899 139h1v1h-1zM1036 139h2v1h-2zM842 140h1v1h-1zM900 140h1v1h-1zM1034 140h2v1h-2zM842 141h1v1h-1zM901 141h1v1h-1zM1032 141h2v1h-2zM841 142h1v1h-1zM902 142h1v1h-1zM1030 142h2v1h-2zM841 143h1v1h-1zM903 143h1v1h-1zM1028 143h2v1h-2zM840 144h1v1h-1zM904 144h1v1h-1zM977 144h11v1h-11zM1026 144h2v1h-2zM840 145h1v1h-1zM905 145h1v1h-1zM973 145h4v1h-4zM988 145h2v1h-2zM1024 145h2v1h-2zM839 146h1v1h-1zM906 146h1v1h-1zM967 146h6v1h-6zM990 146h2v1h-2zM1022 146h2v1h-2zM839 147h1v1h-1zM907 147h1v1h-1zM962 147h5v1h-5zM992 147h2v1h-2zM1020 147h2v1h-2zM838 148h1v1h-1zM908 148h2v1h-2zM959 148h3v1h-3zM994 148h3v1h-3zM1017 148h3v1h-3zM838 149h1v1h-1zM910 149h1v1h-1zM957 149h2v1h-2zM997 149h2v1h-2zM1013 149h4v1h-4zM837 150h1v1h-1zM911 150h2v1h-2zM951 150h6v1h-6zM999 150h3v1h-3zM1007 150h6v1h-6zM837 151h1v1h-1zM913 151h2v1h-2zM943 151h8v1h-8zM1002 151h5v1h-5zM836 152h1v1h-1zM915 152h28v1h-28zM836 153h1v1h-1zM835 154h1v1h-1zM835 155h1v1h-1zM835 156h1v1h-1zM834 157h1v1h-1zM834 158h1v1h-1zM833 159h1v1h-1zM833 160h1v1h-1zM832 161h1v1h-1zM832 162h1v1h-1zM831 163h1v1h-1zM831 164h1v1h-1zM830 165h1v1h-1zM830 166h1v1h-1zM829 167h1v1h-1zM829 168h1v1h-1zM828 169h1v1h-1zM828 170h1v1h-1zM827 171h1v1h-1zM827 172h1v1h-1zM827 173h1v1h-1zM826 174h1v1h-1zM826 175h1v1h-1zM825 176h1v1h-1zM825 177h1v1h-1zM824 178h1v1h-1zM824 179h1v1h-1zM824 180h1v1h-1zM823 181h1v1h-1zM823 182h1v1h-1zM822 183h1v1h-1zM822 184h1v1h-1zM822 185h1v1h-1zM821 186h1v1h-1zM821 187h1v1h-1zM820 188h1v1h-1zM81 189h6v1h-6zM820 189h1v1h-1zM77 190h4v1h-4zM87 190h6v1h-6zM819 190h1v1h-1zM17 191h14v1h-14zM74 191h3v1h-3zM93 191h2v1h-2zM819 191h1v1h-1zM13 192h4v1h-4zM31 192h6v1h-6zM71 192h3v1h-3zM95 192h3v1h-3zM818 192h1v1h-1zM9 193h4v1h-4zM37 193h4v1h-4zM69 193h2v1h-2zM98 193h2v1h-2zM818 193h1v1h-1zM5 194h4v1h-4zM41 194h4v1h-4zM65 194h4v1h-4zM100 194h2v1h-2zM817 194h1v1h-1zM3 195h2v1h-2zM45 195h4v1h-4zM61 195h4v1h-4zM102 195h2v1h-2zM817 195h1v1h-1zM49 196h12v1h-12zM104 196h2v1h-2zM816 196h1v1h-1zM106 197h3v1h-3zM816 197h1v1h-1zM109 198h2v1h-2zM815 198h1v1h-1zM111 199h3v1h-3zM815 199h1v1h-1zM114 200h2v1h-2zM814 200h1v1h-1zM116 201h2v1h-2zM814 201h1v1h-1zM118 202h2v1h-2zM813 202h1v1h-1zM120 203h2v1h-2zM813 203h1v1h-1zM122 204h2v1h-2zM812 204h1v1h-1zM124 205h1v1h-1zM812 205h1v1h-1zM125 206h1v1h-1zM811 206h1v1h-1zM126 207h1v1h-1zM810 207h1v1h-1zM127 208h2v1h-2zM809 208h1v1h-1zM129 209h1v1h-1zM808 209h1v1h-1zM130 210h1v1h-1zM807 210h1v1h-1zM131 211h1v1h-1zM806 211h1v1h-1zM132 212h2v1h-2zM805 212h1v1h-1zM134 213h2v1h-2zM804 213h1v1h-1zM136 214h2v1h-2zM803 214h1v1h-1zM138 215h3v1h-3zM234 215h2v1h-2zM801 215h2v1h-2zM141 216h2v1h-2zM232 216h2v1h-2zM236 216h1v1h-1zM800 216h1v1h-1zM143 217h3v1h-3zM230 217h2v1h-2zM237 217h2v1h-2zM799 217h1v1h-1zM146 218h3v1h-3zM228 218h2v1h-2zM239 218h1v1h-1zM797 218h2v1h-2zM149 219h2v1h-2zM227 219h1v1h-1zM240 219h1v1h-1zM796 219h1v1h-1zM151 220h3v1h-3zM225 220h2v1h-2zM241 220h2v1h-2zM794 220h2v1h-2zM154 221h3v1h-3zM223 221h2v1h-2zM243 221h1v1h-1zM792 221h2v1h-2zM157 222h2v1h-2zM222 222h1v1h-1zM244 222h1v1h-1zM790 222h2v1h-2zM159 223h3v1h-3zM220 223h2v1h-2zM245 223h2v1h-2zM788 223h2v1h-2zM162 224h2v1h-2zM219 224h1v1h-1zM247 224h1v1h-1zM787 224h1v1h-1zM164 225h1v1h-1zM217 225h2v1h-2zM248 225h1v1h-1zM786 225h1v1h-1zM165 226h1v1h-1zM216 226h1v1h-1zM249 226h2v1h-2zM785 226h1v1h-1zM166 227h1v1h-1zM215 227h1v1h-1zM251 227h1v1h-1zM784 227h1v1h-1zM167 228h1v1h-1zM213 228h2v1h-2zM251 228h1v1h-1zM783 228h1v1h-1zM167 229h1v1h-1zM212 229h1v1h-1zM252 229h1v1h-1zM782 229h1v1h-1zM168 230h1v1h-1zM211 230h1v1h-1zM252 230h1v1h-1zM781 230h1v1h-1zM169 231h1v1h-1zM209 231h2v1h-2zM253 231h1v1h-1zM780 231h1v1h-1zM170 232h1v1h-1zM208 232h1v1h-1zM253 232h1v1h-1zM778 232h2v1h-2zM171 233h1v1h-1zM207 233h1v1h-1zM254 233h1v1h-1zM775 233h3v1h-3zM172 234h1v1h-1zM205 234h2v1h-2zM254 234h1v1h-1zM773 234h2v1h-2zM173 235h1v1h-1zM204 235h1v1h-1zM255 235h1v1h-1zM751 235h8v1h-8zM767 235h6v1h-6zM174 236h1v1h-1zM203 236h1v1h-1zM255 236h1v1h-1zM747 236h4v1h-4zM759 236h8v1h-8zM175 237h2v1h-2zM201 237h2v1h-2zM256 237h1v1h-1zM745 237h2v1h-2zM177 238h1v1h-1zM199 238h2v1h-2zM256 238h1v1h-1zM744 238h1v1h-1zM178 239h1v1h-1zM198 239h1v1h-1zM257 239h1v1h-1zM743 239h1v1h-1zM179 240h1v1h-1zM196 240h2v1h-2zM257 240h1v1h-1zM741 240h2v1h-2zM180 241h2v1h-2zM194 241h2v1h-2zM258 241h1v1h-1zM740 241h1v1h-1zM182 242h2v1h-2zM191 242h3v1h-3zM258 242h1v1h-1zM739 242h1v1h-1zM184 243h2v1h-2zM189 243h2v1h-2zM259 243h1v1h-1zM738 243h1v1h-1zM186 244h3v1h-3zM259 244h1v1h-1zM737 244h1v1h-1zM259 245h1v1h-1zM736 245h1v1h-1zM260 246h1v1h-1zM735 246h1v1h-1zM260 247h1v1h-1zM734 247h1v1h-1zM260 248h1v1h-1zM674 248h3v1h-3zM733 248h1v1h-1zM261 249h1v1h-1zM671 249h3v1h-3zM677 249h2v1h-2zM732 249h1v1h-1zM261 250h1v1h-1zM669 250h2v1h-2zM679 250h3v1h-3zM731 250h1v1h-1zM261 251h1v1h-1zM666 251h3v1h-3zM682 251h2v1h-2zM730 251h1v1h-1zM262 252h1v1h-1zM664 252h2v1h-2zM684 252h1v1h-1zM729 252h1v1h-1zM262 253h1v1h-1zM662 253h2v1h-2zM685 253h2v1h-2zM729 253h1v1h-1zM262 254h1v1h-1zM660 254h2v1h-2zM687 254h1v1h-1zM728 254h1v1h-1zM263 255h1v1h-1zM599 255h6v1h-6zM659 255h1v1h-1zM688 255h1v1h-1zM727 255h1v1h-1zM263 256h1v1h-1zM595 256h4v1h-4zM605 256h4v1h-4zM657 256h2v1h-2zM689 256h2v1h-2zM726 256h1v1h-1zM263 257h1v1h-1zM593 257h2v1h-2zM609 257h3v1h-3zM656 257h1v1h-1zM691 257h1v1h-1zM725 257h1v1h-1zM263 258h1v1h-1zM591 258h2v1h-2zM612 258h2v1h-2zM655 258h1v1h-1zM692 258h1v1h-1zM725 258h1v1h-1zM264 259h1v1h-1zM590 259h1v1h-1zM614 259h2v1h-2zM653 259h2v1h-2zM693 259h2v1h-2zM724 259h1v1h-1zM264 260h1v1h-1zM588 260h2v1h-2zM616 260h2v1h-2zM652 260h1v1h-1zM695 260h1v1h-1zM723 260h1v1h-1zM264 261h1v1h-1zM587 261h1v1h-1zM618 261h2v1h-2zM651 261h1v1h-1zM696 261h1v1h-1zM722 261h1v1h-1zM265 262h1v1h-1zM586 262h1v1h-1zM620 262h2v1h-2zM650 262h1v1h-1zM697 262h2v1h-2zM721 262h1v1h-1zM265 263h1v1h-1zM585 263h1v1h-1zM622 263h2v1h-2zM649 263h1v1h-1zM699 263h2v1h-2zM719 263h2v1h-2zM265 264h1v1h-1zM584 264h1v1h-1zM624 264h2v1h-2zM647 264h2v1h-2zM701 264h2v1h-2zM718 264h1v1h-1zM266 265h1v1h-1zM583 265h1v1h-1zM626 265h2v1h-2zM646 265h1v1h-1zM703 265h3v1h-3zM717 265h1v1h-1zM266 266h1v1h-1zM582 266h1v1h-1zM628 266h1v1h-1zM645 266h1v1h-1zM706 266h5v1h-5zM716 266h1v1h-1zM266 267h1v1h-1zM581 267h1v1h-1zM629 267h2v1h-2zM644 267h1v1h-1zM711 267h5v1h-5zM267 268h1v1h-1zM580 268h1v1h-1zM631 268h1v1h-1zM642 268h2v1h-2zM267 269h1v1h-1zM579 269h1v1h-1zM632 269h1v1h-1zM639 269h3v1h-3zM267 270h1v1h-1zM578 270h1v1h-1zM633 270h2v1h-2zM637 270h2v1h-2zM268 271h1v1h-1zM578 271h1v1h-1zM635 271h2v1h-2zM268 272h1v1h-1zM577 272h1v1h-1zM268 273h1v1h-1zM577 273h1v1h-1zM268 274h1v1h-1zM576 274h1v1h-1zM269 275h1v1h-1zM576 275h1v1h-1zM269 276h1v1h-1zM575 276h1v1h-1zM269 277h1v1h-1zM574 277h1v1h-1zM269 278h1v1h-1zM574 278h1v1h-1zM270 279h1v1h-1zM573 279h1v1h-1zM270 280h1v1h-1zM573 280h1v1h-1zM270 281h1v1h-1zM572 281h1v1h-1zM270 282h1v1h-1zM572 282h1v1h-1zM271 283h1v1h-1zM571 283h1v1h-1zM271 284h1v1h-1zM570 284h1v1h-1zM271 285h1v1h-1zM569 285h1v1h-1zM271 286h1v1h-1zM568 286h1v1h-1zM272 287h1v1h-1zM567 287h1v1h-1zM272 288h1v1h-1zM487 288h8v1h-8zM566 288h1v1h-1zM272 289h1v1h-1zM483 289h4v1h-4zM495 289h8v1h-8zM565 289h1v1h-1zM272 290h1v1h-1zM482 290h1v1h-1zM503 290h8v1h-8zM564 290h1v1h-1zM273 291h1v1h-1zM481 291h1v1h-1zM511 291h6v1h-6zM559 291h5v1h-5zM273 292h1v1h-1zM481 292h1v1h-1zM517 292h4v1h-4zM553 292h6v1h-6zM273 293h1v1h-1zM480 293h1v1h-1zM521 293h4v1h-4zM549 293h4v1h-4zM273 294h1v1h-1zM479 294h1v1h-1zM525 294h2v1h-2zM543 294h6v1h-6zM274 295h1v1h-1zM478 295h1v1h-1zM527 295h3v1h-3zM535 295h8v1h-8zM274 296h1v1h-1zM477 296h1v1h-1zM530 296h5v1h-5zM274 297h1v1h-1zM477 297h1v1h-1zM274 298h1v1h-1zM476 298h1v1h-1zM275 299h1v1h-1zM475 299h1v1h-1zM275 300h1v1h-1zM474 300h1v1h-1zM275 301h1v1h-1zM474 301h1v1h-1zM276 302h1v1h-1zM473 302h1v1h-1zM276 303h1v1h-1zM473 303h1v1h-1zM277 304h1v1h-1zM472 304h1v1h-1zM277 305h1v1h-1zM472 305h1v1h-1zM278 306h1v1h-1zM471 306h1v1h-1zM278 307h1v1h-1zM470 307h1v1h-1zM279 308h1v1h-1zM470 308h1v1h-1zM279 309h1v1h-1zM469 309h1v1h-1zM280 310h1v1h-1zM469 310h1v1h-1zM280 311h1v1h-1zM468 311h1v1h-1zM281 312h1v1h-1zM468 312h1v1h-1zM281 313h1v1h-1zM467 313h1v1h-1zM282 314h1v1h-1zM466 314h1v1h-1zM282 315h1v1h-1zM466 315h1v1h-1zM283 316h1v1h-1zM465 316h1v1h-1zM283 317h1v1h-1zM465 317h1v1h-1zM283 318h1v1h-1zM464 318h1v1h-1zM284 319h1v1h-1zM463 319h1v1h-1zM284 320h1v1h-1zM463 320h1v1h-1zM284 321h1v1h-1zM462 321h1v1h-1zM284 322h1v1h-1zM461 322h1v1h-1zM285 323h1v1h-1zM461 323h1v1h-1zM285 324h1v1h-1zM460 324h1v1h-1zM285 325h1v1h-1zM460 325h1v1h-1zM285 326h1v1h-1zM459 326h1v1h-1zM286 327h1v1h-1zM459 327h1v1h-1zM286 328h1v1h-1zM458 328h1v1h-1zM286 329h1v1h-1zM458 329h1v1h-1zM286 330h1v1h-1zM457 330h1v1h-1zM287 331h1v1h-1zM457 331h1v1h-1zM287 332h1v1h-1zM457 332h1v1h-1zM287 333h1v1h-1zM456 333h1v1h-1zM288 334h1v1h-1zM456 334h1v1h-1zM288 335h1v1h-1zM456 335h1v1h-1zM288 336h1v1h-1zM455 336h1v1h-1zM288 337h1v1h-1zM455 337h1v1h-1zM289 338h1v1h-1zM454 338h1v1h-1zM289 339h1v1h-1zM454 339h1v1h-1zM289 340h1v1h-1zM454 340h1v1h-1zM289 341h1v1h-1zM453 341h1v1h-1zM290 342h1v1h-1zM453 342h1v1h-1zM290 343h1v1h-1zM453 343h1v1h-1zM290 344h1v1h-1zM452 344h1v1h-1zM290 345h1v1h-1zM452 345h1v1h-1zM291 346h1v1h-1zM451 346h1v1h-1zM291 347h1v1h-1zM451 347h1v1h-1zM291 348h1v1h-1zM450 348h1v1h-1zM292 349h1v1h-1zM395 349h1v1h-1zM450 349h1v1h-1zM292 350h1v1h-1zM393 350h2v1h-2zM396 350h2v1h-2zM449 350h1v1h-1zM292 351h1v1h-1zM391 351h2v1h-2zM398 351h2v1h-2zM449 351h1v1h-1zM292 352h1v1h-1zM390 352h1v1h-1zM400 352h2v1h-2zM448 352h1v1h-1zM293 353h1v1h-1zM388 353h2v1h-2zM402 353h2v1h-2zM448 353h1v1h-1zM293 354h1v1h-1zM387 354h1v1h-1zM404 354h1v1h-1zM447 354h1v1h-1zM293 355h1v1h-1zM386 355h1v1h-1zM405 355h1v1h-1zM447 355h1v1h-1zM294 356h1v1h-1zM385 356h1v1h-1zM406 356h1v1h-1zM446 356h1v1h-1zM294 357h1v1h-1zM383 357h2v1h-2zM407 357h2v1h-2zM446 357h1v1h-1zM294 358h1v1h-1zM382 358h1v1h-1zM409 358h1v1h-1zM445 358h1v1h-1zM294 359h1v1h-1zM381 359h1v1h-1zM410 359h1v1h-1zM445 359h1v1h-1zM295 360h1v1h-1zM380 360h1v1h-1zM411 360h1v1h-1zM444 360h1v1h-1zM295 361h1v1h-1zM379 361h1v1h-1zM412 361h1v1h-1zM444 361h1v1h-1zM295 362h1v1h-1zM378 362h1v1h-1zM413 362h1v1h-1zM443 362h1v1h-1zM296 363h1v1h-1zM378 363h1v1h-1zM413 363h1v1h-1zM442 363h1v1h-1zM296 364h1v1h-1zM377 364h1v1h-1zM414 364h1v1h-1zM441 364h1v1h-1zM296 365h1v1h-1zM376 365h1v1h-1zM415 365h1v1h-1zM439 365h2v1h-2zM296 366h1v1h-1zM376 366h1v1h-1zM416 366h1v1h-1zM438 366h1v1h-1zM297 367h1v1h-1zM375 367h1v1h-1zM417 367h1v1h-1zM437 367h1v1h-1zM297 368h1v1h-1zM374 368h1v1h-1zM417 368h1v1h-1zM436 368h1v1h-1zM297 369h1v1h-1zM374 369h1v1h-1zM418 369h1v1h-1zM434 369h2v1h-2zM298 370h1v1h-1zM373 370h1v1h-1zM419 370h2v1h-2zM431 370h3v1h-3zM298 371h1v1h-1zM372 371h1v1h-1zM421 371h4v1h-4zM429 371h2v1h-2zM298 372h1v1h-1zM372 372h1v1h-1zM425 372h4v1h-4zM298 373h1v1h-1zM371 373h1v1h-1zM299 374h1v1h-1zM371 374h1v1h-1zM299 375h1v1h-1zM370 375h1v1h-1zM299 376h1v1h-1zM370 376h1v1h-1zM300 377h1v1h-1zM370 377h1v1h-1zM300 378h1v1h-1zM369 378h1v1h-1zM301 379h1v1h-1zM369 379h1v1h-1zM301 380h1v1h-1zM369 380h1v1h-1zM302 381h1v1h-1zM369 381h1v1h-1zM302 382h1v1h-1zM368 382h1v1h-1zM303 383h1v1h-1zM368 383h1v1h-1zM303 384h1v1h-1zM368 384h1v1h-1zM303 385h1v1h-1zM367 385h1v1h-1zM304 386h1v1h-1zM367 386h1v1h-1zM304 387h1v1h-1zM367 387h1v1h-1zM305 388h1v1h-1zM366 388h1v1h-1zM305 389h1v1h-1zM366 389h1v1h-1zM306 390h1v1h-1zM366 390h1v1h-1zM306 391h1v1h-1zM365 391h1v1h-1zM307 392h1v1h-1zM365 392h1v1h-1zM307 393h1v1h-1zM365 393h1v1h-1zM308 394h1v1h-1zM365 394h1v1h-1zM308 395h1v1h-1zM364 395h1v1h-1zM309 396h1v1h-1zM364 396h1v1h-1zM309 397h1v1h-1zM364 397h1v1h-1zM310 398h1v1h-1zM363 398h1v1h-1zM310 399h1v1h-1zM363 399h1v1h-1zM311 400h1v1h-1zM362 400h1v1h-1zM311 401h1v1h-1zM362 401h1v1h-1zM312 402h1v1h-1zM361 402h1v1h-1zM312 403h1v1h-1zM361 403h1v1h-1zM313 404h1v1h-1zM360 404h1v1h-1zM313 405h1v1h-1zM360 405h1v1h-1zM314 406h1v1h-1zM359 406h1v1h-1zM314 407h1v1h-1zM359 407h1v1h-1zM315 408h1v1h-1zM358 408h1v1h-1zM315 409h1v1h-1zM358 409h1v1h-1zM316 410h1v1h-1zM357 410h1v1h-1zM316 411h1v1h-1zM357 411h1v1h-1zM317 412h1v1h-1zM356 412h1v1h-1zM317 413h1v1h-1zM356 413h1v1h-1zM318 414h1v1h-1zM355 414h1v1h-1zM318 415h1v1h-1zM354 415h1v1h-1zM318 416h1v1h-1zM353 416h1v1h-1zM319 417h1v1h-1zM353 417h1v1h-1zM319 418h1v1h-1zM352 418h1v1h-1zM320 419h1v1h-1zM351 419h1v1h-1zM320 420h1v1h-1zM350 420h1v1h-1zM320 421h1v1h-1zM349 421h1v1h-1zM321 422h1v1h-1zM349 422h1v1h-1zM321 423h1v1h-1zM348 423h1v1h-1zM322 424h1v1h-1zM347 424h1v1h-1zM322 425h1v1h-1zM346 425h1v1h-1zM323 426h1v1h-1zM345 426h1v1h-1zM323 427h1v1h-1zM345 427h1v1h-1zM324 428h1v1h-1zM344 428h1v1h-1zM324 429h1v1h-1zM343 429h1v1h-1zM325 430h1v1h-1zM342 430h1v1h-1zM326 431h1v1h-1zM341 431h1v1h-1zM327 432h1v1h-1zM341 432h1v1h-1zM327 433h1v1h-1zM340 433h1v1h-1zM328 434h1v1h-1zM338 434h2v1h-2zM329 435h1v1h-1zM336 435h2v1h-2zM330 436h1v1h-1zM334 436h2v1h-2zM330 437h1v1h-1zM332 437h2v1h-2zM331 438h1v1h-1z" fill="#FFA500"/></g><g shape-rendering="crispEdges"><rect x="3" y="58" width="1592" height="2" fill="#FF0000"/><rect x="2" y="56" width="6" height="6" fill="#FF0000"/><rect x="4" y="58" width="2" height="2" fill="#FFFFFF"/><rect x="1589" y="56" width="6" height="6" fill="#FF0000"/><rect x="1591" y="58" width="2" height="2" fill="#FFFFFF"/><rect x="3" y="84" width="1592" height="2" fill="#00FF00"/><rect x="2" y="82" width="6" height="6" fill="#00FF00"/><rect x="4" y="84" width="2" height="2" fill="#FFFFFF"/><rect x="1589" y="82" width="6" height="6" fill="#00FF00"/><rect x="1591" y="84" width="2" height="2" fill="#FFFFFF"/><rect x="3" y="113" width="1592" height="2" fill="#0000FF"/><rect x="2" y="111" width="6" height="6" fill="#0000FF"/><rect x="4" y="113" width="2" height="2" fill="#FFFFFF"/><rect x="1589" y="111" width="6" height="6" fill="#0000FF"/><rect x="1591" y="113" width="2" height="2" fill="#FFFFFF"/><rect x="3" y="140" width="1592" height="2" fill="#0000FF"/><rect x="2" y="138" width="6" height="6" fill="#0000FF"/><rect x="4" y="140" width="2" height="2" fill="#FFFFFF"/><rect x="1589" y="138" width="6" height="6" fill="#0000FF"/><rect x="1591" y="140" width="2" height="2" fill="#FFFFFF"/><rect x="3" y="167" width="1592" height="2" fill="#0000FF"/><rect x="2" y="165" width="6" height="6" fill="#0000FF"/><rect x="4" y="167" width="2" height="2" fill="#FFFFFF"/><rect x="1589" y="165" width="6" height="6" fill="#0000FF"/><rect x="1591" y="167" width="2" height="2" fill="#FFFFFF"/><rect x="3" y="203" width="1592" height="2" fill="#0000FF"/><rect x="3" y="249" width="1592" height="2" fill="#0000FF"/><rect x="2" y="247" width="6" height="6" fill="#0000FF"/><rect x="4" y="249" width="2" height="2" fill="#FFFFFF"/><rect x="1589" y="247" width="6" height="6" fill="#0000FF"/><rect x="1591" y="249" width="2" height="2" fill="#FFFFFF"/></g><g shape-rendering="crispEdges" fill="none" stroke="#000" stroke-width="1"><rect x="2.5" y="27.5" width="1593" height="506"/><rect x="2.5" y="535.5" width="1593" height="92"/><rect x="2.5" y="629.5" width="1593" height="92"/></g><g shape-rendering="crispEdges"><rect x="1596" y="35" width="2" height="1" fill="#000"/><rect x="1596" y="68" width="2" height="1" fill="#000"/><rect x="1596" y="101" width="2" height="1" fill="#000"/><rect x="1596" y="134" width="2" height="1" fill="#000"/><rect x="1596" y="167" width="2" height="1" fill="#000"/><rect x="1596" y="200" width="2" height="1" fill="#000"/><rect x="1596" y="233" width="2" height="1" fill="#000"/><rect x="1596" y="266" width="2" height="1" fill="#000"/><rect x="1596" y="299" width="2" height="1" fill="#000"/><rect x="1596" y="332" width="2" height="1" fill="#000"/><rect x="1596" y="365" width="2" height="1" fill="#000"/><rect x="1596" y="398" width="2" height="1" fill="#000"/><rect x="1596" y="431" width="2" height="1" fill="#000"/><rect x="1596" y="464" width="2" height="1" fill="#000"/><rect x="1596" y="497" width="2" height="1" fill="#000"/><rect x="1596" y="530" width="2" height="1" fill="#000"/><rect x="1596" y="537" width="2" height="1" fill="#000"/><rect x="1596" y="563" width="2" height="1" fill="#000"/><rect x="1596" y="599" width="2" height="1" fill="#000"/><rect x="1596" y="626" width="2" height="1" fill="#000"/><rect x="1596" y="631" width="2" height="1" fill="#000"/><rect x="1596" y="666" width="2" height="1" fill="#000"/><rect x="3" y="722" width="1" height="3" fill="#000"/><rect x="67" y="722" width="1" height="3" fill="#000"/><rect x="131" y="722" width="1" height="3" fill="#000"/><rect x="195" y="722" width="1" height="3" fill="#000"/><rect x="259" y="722" width="1" height="3" fill="#000"/><rect x="323" y="722" width="1" height="3" fill="#000"/><rect x="387" y="722" width="1" height="3" fill="#000"/><rect x="451" y="722" width="1" height="3" fill="#000"/><rect x="515" y="722" width="1" height="3" fill="#000"/><rect x="579" y="722" width="1" height="3" fill="#000"/><rect x="643" y="722" width="1" height="3" fill="#000"/><rect x="707" y="722" width="1" height="3" fill="#000"/><rect x="771" y="722" width="1" height="3" fill="#000"/><rect x="835" y="722" width="1" height="3" fill="#000"/><rect x="899" y="722" width="1" height="3" fill="#000"/><rect x="963" y="722" width="1" height="3" fill="#000"/><rect x="1027" y="722" width="1" height="3" fill="#000"/><rect x="1091" y="722" width="1" height="3" fill="#000"/><rect x="1155" y="722" width="1" height="3" fill="#000"/><rect x="1219" y="722" width="1" height="3" fill="#000"/></g><g clip-path="url(#cr)"><line x1="4" y1="563.5" x2="1595" y2="563.5" stroke="#C0C0C0" stroke-width="1" stroke-dasharray="3,3" shape-rendering="crispEdges"/><line x1="4" y1="599.5" x2="1595" y2="599.5" stroke="#C0C0C0" stroke-width="1" stroke-dasharray="3,3" shape-rendering="crispEdges"/><path d="M839 557h6v1h-6zM1162 557h3v1h-3zM826 558h13v1h-13zM845 558h2v1h-2zM857 558h3v1h-3zM1159 558h3v1h-3zM1165 558h2v1h-2zM824 559h2v1h-2zM847 559h3v1h-3zM853 559h4v1h-4zM860 559h2v1h-2zM1157 559h2v1h-2zM1167 559h3v1h-3zM822 560h2v1h-2zM850 560h3v1h-3zM862 560h2v1h-2zM873 560h3v1h-3zM1155 560h2v1h-2zM1170 560h2v1h-2zM820 561h2v1h-2zM864 561h2v1h-2zM869 561h4v1h-4zM876 561h1v1h-1zM1154 561h1v1h-1zM1172 561h1v1h-1zM1201 561h11v1h-11zM818 562h2v1h-2zM866 562h3v1h-3zM876 562h1v1h-1zM1153 562h1v1h-1zM1173 562h1v1h-1zM1197 562h4v1h-4zM1212 562h2v1h-2zM815 563h3v1h-3zM877 563h1v1h-1zM1152 563h1v1h-1zM1174 563h1v1h-1zM1194 563h3v1h-3zM1214 563h1v1h-1zM813 564h2v1h-2zM878 564h1v1h-1zM1151 564h1v1h-1zM1175 564h2v1h-2zM1191 564h3v1h-3zM1215 564h2v1h-2zM811 565h2v1h-2zM879 565h1v1h-1zM1151 565h1v1h-1zM1177 565h1v1h-1zM1189 565h2v1h-2zM1217 565h2v1h-2zM585 566h4v1h-4zM809 566h2v1h-2zM879 566h1v1h-1zM1150 566h1v1h-1zM1178 566h1v1h-1zM1183 566h6v1h-6zM1219 566h12v1h-12zM581 567h4v1h-4zM589 567h4v1h-4zM807 567h2v1h-2zM880 567h1v1h-1zM1149 567h1v1h-1zM1179 567h4v1h-4zM1231 567h5v1h-5zM481 568h3v1h-3zM577 568h4v1h-4zM593 568h3v1h-3zM806 568h1v1h-1zM881 568h1v1h-1zM1050 568h5v1h-5zM1114 568h11v1h-11zM1148 568h1v1h-1zM1236 568h1v1h-1zM1255 568h5v1h-5zM477 569h4v1h-4zM484 569h1v1h-1zM573 569h4v1h-4zM596 569h1v1h-1zM770 569h2v1h-2zM804 569h2v1h-2zM882 569h1v1h-1zM962 569h2v1h-2zM1047 569h3v1h-3zM1055 569h14v1h-14zM1098 569h3v1h-3zM1111 569h3v1h-3zM1125 569h4v1h-4zM1135 569h13v1h-13zM1237 569h1v1h-1zM1251 569h4v1h-4zM471 570h6v1h-6zM485 570h1v1h-1zM571 570h2v1h-2zM597 570h1v1h-1zM649 570h4v1h-4zM727 570h6v1h-6zM768 570h2v1h-2zM772 570h2v1h-2zM786 570h5v1h-5zM799 570h5v1h-5zM882 570h1v1h-1zM959 570h3v1h-3zM964 570h1v1h-1zM1045 570h2v1h-2zM1069 570h4v1h-4zM1096 570h2v1h-2zM1101 570h4v1h-4zM1109 570h2v1h-2zM1129 570h6v1h-6zM1238 570h1v1h-1zM1249 570h2v1h-2zM463 571h8v1h-8zM486 571h1v1h-1zM569 571h2v1h-2zM598 571h1v1h-1zM645 571h4v1h-4zM653 571h4v1h-4zM722 571h5v1h-5zM733 571h2v1h-2zM766 571h2v1h-2zM774 571h2v1h-2zM783 571h3v1h-3zM791 571h8v1h-8zM883 571h2v1h-2zM919 571h5v1h-5zM957 571h2v1h-2zM965 571h1v1h-1zM1033 571h12v1h-12zM1073 571h12v1h-12zM1094 571h2v1h-2zM1105 571h4v1h-4zM1239 571h2v1h-2zM1247 571h2v1h-2zM455 572h8v1h-8zM487 572h2v1h-2zM521 572h3v1h-3zM567 572h2v1h-2zM599 572h1v1h-1zM643 572h2v1h-2zM657 572h3v1h-3zM719 572h3v1h-3zM735 572h3v1h-3zM764 572h2v1h-2zM776 572h2v1h-2zM781 572h2v1h-2zM885 572h2v1h-2zM913 572h6v1h-6zM924 572h2v1h-2zM954 572h3v1h-3zM966 572h1v1h-1zM1029 572h4v1h-4zM1085 572h4v1h-4zM1092 572h2v1h-2zM1241 572h1v1h-1zM1246 572h1v1h-1zM451 573h4v1h-4zM489 573h1v1h-1zM517 573h4v1h-4zM524 573h1v1h-1zM566 573h1v1h-1zM600 573h1v1h-1zM641 573h2v1h-2zM660 573h2v1h-2zM717 573h2v1h-2zM738 573h3v1h-3zM761 573h3v1h-3zM778 573h3v1h-3zM887 573h3v1h-3zM909 573h4v1h-4zM926 573h1v1h-1zM952 573h2v1h-2zM967 573h1v1h-1zM1023 573h6v1h-6zM1089 573h3v1h-3zM1242 573h1v1h-1zM1244 573h2v1h-2zM449 574h2v1h-2zM490 574h1v1h-1zM506 574h11v1h-11zM525 574h1v1h-1zM546 574h5v1h-5zM564 574h2v1h-2zM601 574h1v1h-1zM626 574h2v1h-2zM640 574h1v1h-1zM662 574h2v1h-2zM673 574h3v1h-3zM715 574h2v1h-2zM741 574h2v1h-2zM757 574h4v1h-4zM890 574h5v1h-5zM903 574h6v1h-6zM927 574h2v1h-2zM950 574h2v1h-2zM967 574h1v1h-1zM1015 574h8v1h-8zM1243 574h1v1h-1zM447 575h2v1h-2zM491 575h2v1h-2zM503 575h3v1h-3zM526 575h1v1h-1zM544 575h2v1h-2zM551 575h13v1h-13zM602 575h1v1h-1zM623 575h3v1h-3zM628 575h2v1h-2zM639 575h1v1h-1zM664 575h2v1h-2zM669 575h4v1h-4zM676 575h2v1h-2zM714 575h1v1h-1zM743 575h3v1h-3zM751 575h6v1h-6zM895 575h8v1h-8zM929 575h2v1h-2zM948 575h2v1h-2zM968 575h1v1h-1zM1010 575h5v1h-5zM446 576h1v1h-1zM493 576h4v1h-4zM501 576h2v1h-2zM527 576h1v1h-1zM542 576h2v1h-2zM603 576h4v1h-4zM621 576h2v1h-2zM630 576h2v1h-2zM637 576h2v1h-2zM666 576h3v1h-3zM678 576h2v1h-2zM713 576h1v1h-1zM746 576h5v1h-5zM931 576h17v1h-17zM969 576h1v1h-1zM1008 576h2v1h-2zM444 577h2v1h-2zM497 577h4v1h-4zM528 577h1v1h-1zM540 577h2v1h-2zM607 577h14v1h-14zM632 577h2v1h-2zM636 577h1v1h-1zM680 577h2v1h-2zM711 577h2v1h-2zM970 577h1v1h-1zM1006 577h2v1h-2zM441 578h3v1h-3zM529 578h1v1h-1zM537 578h3v1h-3zM634 578h2v1h-2zM682 578h3v1h-3zM710 578h1v1h-1zM971 578h28v1h-28zM1004 578h2v1h-2zM437 579h4v1h-4zM530 579h1v1h-1zM533 579h4v1h-4zM685 579h4v1h-4zM709 579h1v1h-1zM999 579h5v1h-5zM234 580h2v1h-2zM435 580h2v1h-2zM531 580h2v1h-2zM689 580h4v1h-4zM708 580h1v1h-1zM231 581h3v1h-3zM236 581h1v1h-1zM433 581h2v1h-2zM693 581h4v1h-4zM703 581h5v1h-5zM229 582h2v1h-2zM236 582h1v1h-1zM432 582h1v1h-1zM697 582h6v1h-6zM218 583h11v1h-11zM237 583h1v1h-1zM370 583h5v1h-5zM431 583h1v1h-1zM195 584h4v1h-4zM215 584h3v1h-3zM237 584h1v1h-1zM368 584h2v1h-2zM375 584h8v1h-8zM429 584h2v1h-2zM194 585h1v1h-1zM199 585h8v1h-8zM213 585h2v1h-2zM238 585h1v1h-1zM366 585h2v1h-2zM383 585h6v1h-6zM428 585h1v1h-1zM59 586h2v1h-2zM194 586h1v1h-1zM207 586h6v1h-6zM238 586h1v1h-1zM364 586h2v1h-2zM389 586h4v1h-4zM427 586h1v1h-1zM57 587h2v1h-2zM61 587h4v1h-4zM193 587h1v1h-1zM239 587h1v1h-1zM362 587h2v1h-2zM393 587h4v1h-4zM425 587h2v1h-2zM56 588h1v1h-1zM65 588h4v1h-4zM193 588h1v1h-1zM239 588h1v1h-1zM359 588h3v1h-3zM397 588h4v1h-4zM423 588h2v1h-2zM55 589h1v1h-1zM69 589h4v1h-4zM192 589h1v1h-1zM240 589h1v1h-1zM357 589h2v1h-2zM401 589h4v1h-4zM422 589h1v1h-1zM53 590h2v1h-2zM73 590h4v1h-4zM89 590h4v1h-4zM192 590h1v1h-1zM240 590h1v1h-1zM355 590h2v1h-2zM405 590h4v1h-4zM420 590h2v1h-2zM52 591h1v1h-1zM77 591h4v1h-4zM85 591h4v1h-4zM93 591h2v1h-2zM191 591h1v1h-1zM241 591h1v1h-1zM353 591h2v1h-2zM409 591h11v1h-11zM51 592h1v1h-1zM81 592h4v1h-4zM95 592h3v1h-3zM190 592h1v1h-1zM241 592h1v1h-1zM250 592h2v1h-2zM352 592h1v1h-1zM50 593h1v1h-1zM98 593h3v1h-3zM190 593h1v1h-1zM242 593h1v1h-1zM248 593h2v1h-2zM252 593h1v1h-1zM351 593h1v1h-1zM11 594h4v1h-4zM49 594h1v1h-1zM101 594h2v1h-2zM189 594h1v1h-1zM242 594h1v1h-1zM246 594h2v1h-2zM253 594h1v1h-1zM349 594h2v1h-2zM9 595h2v1h-2zM15 595h5v1h-5zM48 595h1v1h-1zM103 595h3v1h-3zM189 595h1v1h-1zM243 595h3v1h-3zM253 595h1v1h-1zM348 595h1v1h-1zM7 596h2v1h-2zM20 596h2v1h-2zM47 596h1v1h-1zM106 596h2v1h-2zM188 596h1v1h-1zM243 596h1v1h-1zM254 596h1v1h-1zM346 596h2v1h-2zM6 597h1v1h-1zM22 597h1v1h-1zM47 597h1v1h-1zM108 597h1v1h-1zM188 597h1v1h-1zM255 597h1v1h-1zM343 597h3v1h-3zM4 598h2v1h-2zM23 598h2v1h-2zM46 598h1v1h-1zM109 598h2v1h-2zM183 598h5v1h-5zM256 598h1v1h-1zM341 598h2v1h-2zM3 599h1v1h-1zM25 599h2v1h-2zM45 599h1v1h-1zM111 599h1v1h-1zM179 599h4v1h-4zM257 599h1v1h-1zM339 599h2v1h-2zM27 600h2v1h-2zM44 600h1v1h-1zM112 600h1v1h-1zM121 600h12v1h-12zM178 600h1v1h-1zM257 600h1v1h-1zM338 600h1v1h-1zM29 601h4v1h-4zM39 601h5v1h-5zM113 601h2v1h-2zM117 601h4v1h-4zM133 601h4v1h-4zM178 601h1v1h-1zM258 601h1v1h-1zM338 601h1v1h-1zM33 602h6v1h-6zM115 602h2v1h-2zM137 602h4v1h-4zM177 602h1v1h-1zM259 602h1v1h-1zM337 602h1v1h-1zM141 603h4v1h-4zM163 603h1v1h-1zM176 603h1v1h-1zM260 603h2v1h-2zM337 603h1v1h-1zM145 604h3v1h-3zM161 604h2v1h-2zM164 604h1v1h-1zM175 604h1v1h-1zM262 604h2v1h-2zM336 604h1v1h-1zM148 605h2v1h-2zM159 605h2v1h-2zM165 605h1v1h-1zM175 605h1v1h-1zM264 605h2v1h-2zM336 605h1v1h-1zM150 606h2v1h-2zM158 606h1v1h-1zM166 606h1v1h-1zM174 606h1v1h-1zM266 606h11v1h-11zM335 606h1v1h-1zM152 607h2v1h-2zM156 607h2v1h-2zM167 607h2v1h-2zM173 607h1v1h-1zM277 607h4v1h-4zM334 607h1v1h-1zM154 608h2v1h-2zM169 608h1v1h-1zM172 608h1v1h-1zM281 608h4v1h-4zM334 608h1v1h-1zM170 609h1v1h-1zM172 609h1v1h-1zM285 609h2v1h-2zM333 609h1v1h-1zM171 610h1v1h-1zM287 610h3v1h-3zM333 610h1v1h-1zM290 611h3v1h-3zM332 611h1v1h-1zM293 612h4v1h-4zM303 612h24v1h-24zM332 612h1v1h-1zM297 613h6v1h-6zM327 613h5v1h-5z" fill="#1E90FF" shape-rendering="crispEdges"/></g><g clip-path="url(#cd)" shape-rendering="crispEdges"><rect x="3" y="666" width="1" height="10" fill="#C0C0C0"/><rect x="11" y="666" width="1" height="10" fill="#C0C0C0"/><rect x="19" y="666" width="1" height="10" fill="#C0C0C0"/><rect x="27" y="666" width="1" height="11" fill="#C0C0C0"/><rect x="35" y="666" width="1" height="12" fill="#C0C0C0"/><rect x="43" y="666" width="1" height="12" fill="#C0C0C0"/><rect x="51" y="666" width="1" height="12" fill="#C0C0C0"/><rect x="59" y="666" width="1" height="11" fill="#C0C0C0"/><rect x="67" y="666" width="1" height="10" fill="#C0C0C0"/><rect x="75" y="666" width="1" height="10" fill="#C0C0C0"/><rect x="83" y="666" width="1" height="10" fill="#C0C0C0"/><rect x="91" y="666" width="1" height="9" fill="#C0C0C0"/><rect x="99" y="666" width="1" height="9" fill="#C0C0C0"/><rect x="107" y="666" width="1" height="9" fill="#C0C0C0"/><rect x="115" y="666" width="1" height="9" fill="#C0C0C0"/><rect x="123" y="666" width="1" height="9" fill="#C0C0C0"/><rect x="131" y="666" width="1" height="9" fill="#C0C0C0"/><rect x="139" y="666" width="1" height="10" fill="#C0C0C0"/><rect x="147" y="666" width="1" height="10" fill="#C0C0C0"/><rect x="155" y="666" width="1" height="10" fill="#C0C0C0"/><rect x="163" y="666" width="1" height="11" fill="#C0C0C0"/><rect x="171" y="666" width="1" height="14" fill="#C0C0C0"/><rect x="179" y="666" width="1" height="14" fill="#C0C0C0"/><rect x="187" y="666" width="1" height="14" fill="#C0C0C0"/><rect x="195" y="666" width="1" height="12" fill="#C0C0C0"/><rect x="203" y="666" width="1" height="11" fill="#C0C0C0"/><rect x="211" y="666" width="1" height="10" fill="#C0C0C0"/><rect x="219" y="666" width="1" height="10" fill="#C0C0C0"/><rect x="227" y="666" width="1" height="9" fill="#C0C0C0"/><rect x="235" y="666" width="1" height="7" fill="#C0C0C0"/><rect x="243" y="666" width="1" height="9" fill="#C0C0C0"/><rect x="251" y="666" width="1" height="10" fill="#C0C0C0"/><rect x="259" y="666" width="1" height="14" fill="#C0C0C0"/><rect x="267" y="666" width="1" height="19" fill="#C0C0C0"/><rect x="275" y="666" width="1" height="25" fill="#C0C0C0"/><rect x="283" y="666" width="1" height="27" fill="#C0C0C0"/><rect x="291" y="666" width="1" height="33" fill="#C0C0C0"/><rect x="299" y="666" width="1" height="39" fill="#C0C0C0"/><rect x="307" y="666" width="1" height="44" fill="#C0C0C0"/><rect x="315" y="666" width="1" height="46" fill="#C0C0C0"/><rect x="323" y="666" width="1" height="48" fill="#C0C0C0"/><rect x="331" y="666" width="1" height="50" fill="#C0C0C0"/><rect x="339" y="666" width="1" height="48" fill="#C0C0C0"/><rect x="347" y="666" width="1" height="45" fill="#C0C0C0"/><rect x="355" y="666" width="1" height="42" fill="#C0C0C0"/><rect x="363" y="666" width="1" height="37" fill="#C0C0C0"/><rect x="371" y="666" width="1" height="32" fill="#C0C0C0"/><rect x="379" y="666" width="1" height="28" fill="#C0C0C0"/><rect x="387" y="666" width="1" height="25" fill="#C0C0C0"/><rect x="395" y="666" width="1" height="21" fill="#C0C0C0"/><rect x="403" y="666" width="1" height="21" fill="#C0C0C0"/><rect x="411" y="666" width="1" height="21" fill="#C0C0C0"/><rect x="419" y="666" width="1" height="19" fill="#C0C0C0"/><rect x="427" y="666" width="1" height="18" fill="#C0C0C0"/><rect x="435" y="666" width="1" height="14" fill="#C0C0C0"/><rect x="443" y="666" width="1" height="12" fill="#C0C0C0"/><rect x="451" y="666" width="1" height="7" fill="#C0C0C0"/><rect x="459" y="666" width="1" height="3" fill="#C0C0C0"/><rect x="467" y="666" width="1" height="2" fill="#C0C0C0"/><rect x="475" y="666" width="1" height="1" fill="#C0C0C0"/><rect x="483" y="661" width="1" height="6" fill="#C0C0C0"/><rect x="491" y="659" width="1" height="8" fill="#C0C0C0"/><rect x="499" y="657" width="1" height="10" fill="#C0C0C0"/><rect x="507" y="657" width="1" height="10" fill="#C0C0C0"/><rect x="515" y="657" width="1" height="10" fill="#C0C0C0"/><rect x="523" y="656" width="1" height="11" fill="#C0C0C0"/><rect x="531" y="657" width="1" height="10" fill="#C0C0C0"/><rect x="539" y="658" width="1" height="9" fill="#C0C0C0"/><rect x="547" y="657" width="1" height="10" fill="#C0C0C0"/><rect x="555" y="658" width="1" height="9" fill="#C0C0C0"/><rect x="563" y="656" width="1" height="11" fill="#C0C0C0"/><rect x="571" y="655" width="1" height="12" fill="#C0C0C0"/><rect x="579" y="655" width="1" height="12" fill="#C0C0C0"/><rect x="587" y="653" width="1" height="14" fill="#C0C0C0"/><rect x="595" y="651" width="1" height="16" fill="#C0C0C0"/><rect x="603" y="650" width="1" height="17" fill="#C0C0C0"/><rect x="611" y="652" width="1" height="15" fill="#C0C0C0"/><rect x="619" y="652" width="1" height="15" fill="#C0C0C0"/><rect x="627" y="654" width="1" height="13" fill="#C0C0C0"/><rect x="635" y="654" width="1" height="13" fill="#C0C0C0"/><rect x="643" y="655" width="1" height="12" fill="#C0C0C0"/><rect x="651" y="654" width="1" height="13" fill="#C0C0C0"/><rect x="659" y="654" width="1" height="13" fill="#C0C0C0"/><rect x="667" y="653" width="1" height="14" fill="#C0C0C0"/><rect x="675" y="653" width="1" height="14" fill="#C0C0C0"/><rect x="683" y="654" width="1" height="13" fill="#C0C0C0"/><rect x="691" y="656" width="1" height="11" fill="#C0C0C0"/><rect x="699" y="656" width="1" height="11" fill="#C0C0C0"/><rect x="707" y="659" width="1" height="8" fill="#C0C0C0"/><rect x="715" y="657" width="1" height="10" fill="#C0C0C0"/><rect x="723" y="659" width="1" height="8" fill="#C0C0C0"/><rect x="731" y="657" width="1" height="10" fill="#C0C0C0"/><rect x="739" y="656" width="1" height="11" fill="#C0C0C0"/><rect x="747" y="655" width="1" height="12" fill="#C0C0C0"/><rect x="755" y="656" width="1" height="11" fill="#C0C0C0"/><rect x="763" y="657" width="1" height="10" fill="#C0C0C0"/><rect x="771" y="656" width="1" height="11" fill="#C0C0C0"/><rect x="779" y="656" width="1" height="11" fill="#C0C0C0"/><rect x="787" y="654" width="1" height="13" fill="#C0C0C0"/><rect x="795" y="654" width="1" height="13" fill="#C0C0C0"/><rect x="803" y="654" width="1" height="13" fill="#C0C0C0"/><rect x="811" y="650" width="1" height="17" fill="#C0C0C0"/><rect x="819" y="647" width="1" height="20" fill="#C0C0C0"/><rect x="827" y="643" width="1" height="24" fill="#C0C0C0"/><rect x="835" y="641" width="1" height="26" fill="#C0C0C0"/><rect x="843" y="638" width="1" height="29" fill="#C0C0C0"/><rect x="851" y="637" width="1" height="30" fill="#C0C0C0"/><rect x="859" y="636" width="1" height="31" fill="#C0C0C0"/><rect x="867" y="636" width="1" height="31" fill="#C0C0C0"/><rect x="875" y="636" width="1" height="31" fill="#C0C0C0"/><rect x="883" y="637" width="1" height="30" fill="#C0C0C0"/><rect x="891" y="640" width="1" height="27" fill="#C0C0C0"/><rect x="899" y="643" width="1" height="24" fill="#C0C0C0"/><rect x="907" y="645" width="1" height="22" fill="#C0C0C0"/><rect x="915" y="646" width="1" height="21" fill="#C0C0C0"/><rect x="923" y="647" width="1" height="20" fill="#C0C0C0"/><rect x="931" y="649" width="1" height="18" fill="#C0C0C0"/><rect x="939" y="651" width="1" height="16" fill="#C0C0C0"/><rect x="947" y="652" width="1" height="15" fill="#C0C0C0"/><rect x="955" y="653" width="1" height="14" fill="#C0C0C0"/><rect x="963" y="652" width="1" height="15" fill="#C0C0C0"/><rect x="971" y="653" width="1" height="14" fill="#C0C0C0"/><rect x="979" y="655" width="1" height="12" fill="#C0C0C0"/><rect x="987" y="657" width="1" height="10" fill="#C0C0C0"/><rect x="995" y="657" width="1" height="10" fill="#C0C0C0"/><rect x="1003" y="658" width="1" height="9" fill="#C0C0C0"/><rect x="1011" y="658" width="1" height="9" fill="#C0C0C0"/><rect x="1019" y="658" width="1" height="9" fill="#C0C0C0"/><rect x="1027" y="657" width="1" height="10" fill="#C0C0C0"/><rect x="1035" y="657" width="1" height="10" fill="#C0C0C0"/><rect x="1043" y="657" width="1" height="10" fill="#C0C0C0"/><rect x="1051" y="657" width="1" height="10" fill="#C0C0C0"/><rect x="1059" y="657" width="1" height="10" fill="#C0C0C0"/><rect x="1067" y="657" width="1" height="10" fill="#C0C0C0"/><rect x="1075" y="657" width="1" height="10" fill="#C0C0C0"/><rect x="1083" y="657" width="1" height="10" fill="#C0C0C0"/><rect x="1091" y="657" width="1" height="10" fill="#C0C0C0"/><rect x="1099" y="657" width="1" height="10" fill="#C0C0C0"/><rect x="1107" y="657" width="1" height="10" fill="#C0C0C0"/><rect x="1115" y="657" width="1" height="10" fill="#C0C0C0"/><rect x="1123" y="657" width="1" height="10" fill="#C0C0C0"/><rect x="1131" y="657" width="1" height="10" fill="#C0C0C0"/><rect x="1139" y="657" width="1" height="10" fill="#C0C0C0"/><rect x="1147" y="657" width="1" height="10" fill="#C0C0C0"/><rect x="1155" y="656" width="1" height="11" fill="#C0C0C0"/><rect x="1163" y="655" width="1" height="12" fill="#C0C0C0"/><rect x="1171" y="654" width="1" height="13" fill="#C0C0C0"/><rect x="1179" y="654" width="1" height="13" fill="#C0C0C0"/><rect x="1187" y="654" width="1" height="13" fill="#C0C0C0"/><rect x="1195" y="654" width="1" height="13" fill="#C0C0C0"/><rect x="1203" y="654" width="1" height="13" fill="#C0C0C0"/><rect x="1211" y="654" width="1" height="13" fill="#C0C0C0"/><rect x="1219" y="653" width="1" height="14" fill="#C0C0C0"/><rect x="1227" y="652" width="1" height="15" fill="#C0C0C0"/><rect x="1235" y="653" width="1" height="14" fill="#C0C0C0"/><rect x="1243" y="654" width="1" height="13" fill="#C0C0C0"/><rect x="1251" y="654" width="1" height="13" fill="#C0C0C0"/><rect x="1259" y="654" width="1" height="13" fill="#C0C0C0"/></g><path d="M3 676h1v1h-1zM4 676h1v1h-1zM5 676h1v1h-1zM9 676h1v1h-1zM10 676h1v1h-1zM11 676h1v1h-1zM15 676h1v1h-1zM16 676h1v1h-1zM17 676h1v1h-1zM21 676h1v1h-1zM22 676h1v1h-1zM23 676h1v1h-1zM27 676h1v1h-1zM28 676h1v1h-1zM29 676h1v1h-1zM33 677h1v1h-1zM34 677h1v1h-1zM35 677h1v1h-1zM39 677h1v1h-1zM40 677h1v1h-1zM41 677h1v1h-1zM45 677h1v1h-1zM46 677h1v1h-1zM47 677h1v1h-1zM51 677h1v1h-1zM52 677h1v1h-1zM53 677h1v1h-1zM57 677h1v1h-1zM58 677h1v1h-1zM59 677h1v1h-1zM63 676h1v1h-1zM64 676h1v1h-1zM65 676h1v1h-1zM69 676h1v1h-1zM70 676h1v1h-1zM71 676h1v1h-1zM75 676h1v1h-1zM76 676h1v1h-1zM77 676h1v1h-1zM81 676h1v1h-1zM82 676h1v1h-1zM83 676h1v1h-1zM87 676h1v1h-1zM88 676h1v1h-1zM89 676h1v1h-1zM93 676h1v1h-1zM94 676h1v1h-1zM95 676h1v1h-1zM99 676h1v1h-1zM100 676h1v1h-1zM101 676h1v1h-1zM105 675h1v1h-1zM106 675h1v1h-1zM107 675h1v1h-1zM111 675h1v1h-1zM112 675h1v1h-1zM113 675h1v1h-1zM117 675h1v1h-1zM118 675h1v1h-1zM119 675h1v1h-1zM123 675h1v1h-1zM124 675h1v1h-1zM125 675h1v1h-1zM129 675h1v1h-1zM130 675h1v1h-1zM131 675h1v1h-1zM135 675h1v1h-1zM136 675h1v1h-1zM137 675h1v1h-1zM141 675h1v1h-1zM142 675h1v1h-1zM143 675h1v1h-1zM147 675h1v1h-1zM148 675h1v1h-1zM149 675h1v1h-1zM153 675h1v1h-1zM154 675h1v1h-1zM155 675h1v1h-1zM159 675h1v1h-1zM160 675h1v1h-1zM161 675h1v1h-1zM165 675h1v1h-1zM166 675h1v1h-1zM167 676h1v1h-1zM171 676h1v1h-1zM172 676h1v1h-1zM173 676h1v1h-1zM177 676h1v1h-1zM178 676h1v1h-1zM179 676h1v1h-1zM183 677h1v1h-1zM184 677h1v1h-1zM185 677h1v1h-1zM189 677h1v1h-1zM190 677h1v1h-1zM191 677h1v1h-1zM195 677h1v1h-1zM196 677h1v1h-1zM197 677h1v1h-1zM201 678h1v1h-1zM202 678h1v1h-1zM203 678h1v1h-1zM207 678h1v1h-1zM208 678h1v1h-1zM209 678h1v1h-1zM213 678h1v1h-1zM214 678h1v1h-1zM215 677h1v1h-1zM219 677h1v1h-1zM220 677h1v1h-1zM221 677h1v1h-1zM225 677h1v1h-1zM226 677h1v1h-1zM227 677h1v1h-1zM231 677h1v1h-1zM232 677h1v1h-1zM233 677h1v1h-1zM237 677h1v1h-1zM238 677h1v1h-1zM239 676h1v1h-1zM243 676h1v1h-1zM244 676h1v1h-1zM245 676h1v1h-1zM249 676h1v1h-1zM250 676h1v1h-1zM251 676h1v1h-1zM255 676h1v1h-1zM256 676h1v1h-1zM257 676h1v1h-1zM261 677h1v1h-1zM262 677h1v1h-1zM263 677h1v1h-1zM267 678h1v1h-1zM268 678h1v1h-1zM269 678h1v1h-1zM273 679h1v1h-1zM274 679h1v1h-1zM275 679h1v1h-1zM279 679h1v1h-1zM280 679h1v1h-1zM281 679h1v1h-1zM285 680h1v1h-1zM286 681h1v1h-1zM287 681h1v1h-1zM291 683h1v1h-1zM292 683h1v1h-1zM293 684h1v1h-1zM297 685h1v1h-1zM298 686h1v1h-1zM299 686h1v1h-1zM303 689h1v1h-1zM304 689h1v1h-1zM305 690h1v1h-1zM309 692h1v1h-1zM310 693h1v1h-1zM311 693h1v1h-1zM315 695h1v1h-1zM316 696h1v1h-1zM317 696h1v1h-1zM321 698h1v1h-1zM322 699h1v1h-1zM323 699h1v1h-1zM327 701h1v1h-1zM328 701h1v1h-1zM329 701h1v1h-1zM333 703h1v1h-1zM334 704h1v1h-1zM335 704h1v1h-1zM339 706h1v1h-1zM340 707h1v1h-1zM341 707h1v1h-1zM345 709h1v1h-1zM346 710h1v1h-1zM347 710h1v1h-1zM351 710h1v1h-1zM352 710h1v1h-1zM353 710h1v1h-1zM357 710h1v1h-1zM358 710h1v1h-1zM359 710h1v1h-1zM363 710h1v1h-1zM364 710h1v1h-1zM365 710h1v1h-1zM369 710h1v1h-1zM370 710h1v1h-1zM371 710h1v1h-1zM375 709h1v1h-1zM376 709h1v1h-1zM377 708h1v1h-1zM381 707h1v1h-1zM382 707h1v1h-1zM383 706h1v1h-1zM387 705h1v1h-1zM388 705h1v1h-1zM389 704h1v1h-1zM393 703h1v1h-1zM394 702h1v1h-1zM395 702h1v1h-1zM399 701h1v1h-1zM400 701h1v1h-1zM401 700h1v1h-1zM405 699h1v1h-1zM406 698h1v1h-1zM407 698h1v1h-1zM411 696h1v1h-1zM412 696h1v1h-1zM413 695h1v1h-1zM417 694h1v1h-1zM418 693h1v1h-1zM419 693h1v1h-1zM423 692h1v1h-1zM424 692h1v1h-1zM425 691h1v1h-1zM429 690h1v1h-1zM430 690h1v1h-1zM431 689h1v1h-1zM435 688h1v1h-1zM436 688h1v1h-1zM437 687h1v1h-1zM441 686h1v1h-1zM442 686h1v1h-1zM443 686h1v1h-1zM447 685h1v1h-1zM448 685h1v1h-1zM449 684h1v1h-1zM453 683h1v1h-1zM454 683h1v1h-1zM455 682h1v1h-1zM459 681h1v1h-1zM460 681h1v1h-1zM461 680h1v1h-1zM465 679h1v1h-1zM466 678h1v1h-1zM467 678h1v1h-1zM471 676h1v1h-1zM472 676h1v1h-1zM473 676h1v1h-1zM477 674h1v1h-1zM478 674h1v1h-1zM479 673h1v1h-1zM483 672h1v1h-1zM484 672h1v1h-1zM485 671h1v1h-1zM489 670h1v1h-1zM490 669h1v1h-1zM491 669h1v1h-1zM495 667h1v1h-1zM496 667h1v1h-1zM497 667h1v1h-1zM501 666h1v1h-1zM502 666h1v1h-1zM503 665h1v1h-1zM507 665h1v1h-1zM508 664h1v1h-1zM509 664h1v1h-1zM513 662h1v1h-1zM514 661h1v1h-1zM515 661h1v1h-1zM519 660h1v1h-1zM520 660h1v1h-1zM521 660h1v1h-1zM525 659h1v1h-1zM526 659h1v1h-1zM527 659h1v1h-1zM531 658h1v1h-1zM532 658h1v1h-1zM533 658h1v1h-1zM537 657h1v1h-1zM538 657h1v1h-1zM539 657h1v1h-1zM543 657h1v1h-1zM544 657h1v1h-1zM545 657h1v1h-1zM549 657h1v1h-1zM550 657h1v1h-1zM551 656h1v1h-1zM555 656h1v1h-1zM556 656h1v1h-1zM557 656h1v1h-1zM561 656h1v1h-1zM562 656h1v1h-1zM563 656h1v1h-1zM567 656h1v1h-1zM568 656h1v1h-1zM569 656h1v1h-1zM573 656h1v1h-1zM574 656h1v1h-1zM575 655h1v1h-1zM579 655h1v1h-1zM580 655h1v1h-1zM581 655h1v1h-1zM585 654h1v1h-1zM586 654h1v1h-1zM587 654h1v1h-1zM591 654h1v1h-1zM592 654h1v1h-1zM593 654h1v1h-1zM597 654h1v1h-1zM598 654h1v1h-1zM599 653h1v1h-1zM603 653h1v1h-1zM604 653h1v1h-1zM605 653h1v1h-1zM609 653h1v1h-1zM610 653h1v1h-1zM611 653h1v1h-1zM615 652h1v1h-1zM616 652h1v1h-1zM617 652h1v1h-1zM621 652h1v1h-1zM622 652h1v1h-1zM623 652h1v1h-1zM627 652h1v1h-1zM628 652h1v1h-1zM629 652h1v1h-1zM633 652h1v1h-1zM634 652h1v1h-1zM635 652h1v1h-1zM639 652h1v1h-1zM640 652h1v1h-1zM641 652h1v1h-1zM645 652h1v1h-1zM646 652h1v1h-1zM647 652h1v1h-1zM651 652h1v1h-1zM652 652h1v1h-1zM653 652h1v1h-1zM657 652h1v1h-1zM658 652h1v1h-1zM659 652h1v1h-1zM663 653h1v1h-1zM664 653h1v1h-1zM665 653h1v1h-1zM669 653h1v1h-1zM670 653h1v1h-1zM671 653h1v1h-1zM675 653h1v1h-1zM676 653h1v1h-1zM677 653h1v1h-1zM681 654h1v1h-1zM682 654h1v1h-1zM683 654h1v1h-1zM687 654h1v1h-1zM688 654h1v1h-1zM689 654h1v1h-1zM693 654h1v1h-1zM694 654h1v1h-1zM695 655h1v1h-1zM699 655h1v1h-1zM700 655h1v1h-1zM701 655h1v1h-1zM705 655h1v1h-1zM706 655h1v1h-1zM707 655h1v1h-1zM711 656h1v1h-1zM712 656h1v1h-1zM713 656h1v1h-1zM717 656h1v1h-1zM718 656h1v1h-1zM719 656h1v1h-1zM723 656h1v1h-1zM724 656h1v1h-1zM725 656h1v1h-1zM729 656h1v1h-1zM730 656h1v1h-1zM731 656h1v1h-1zM735 656h1v1h-1zM736 656h1v1h-1zM737 656h1v1h-1zM741 656h1v1h-1zM742 656h1v1h-1zM743 657h1v1h-1zM747 657h1v1h-1zM748 657h1v1h-1zM749 657h1v1h-1zM753 657h1v1h-1zM754 657h1v1h-1zM755 657h1v1h-1zM759 657h1v1h-1zM760 657h1v1h-1zM761 657h1v1h-1zM765 657h1v1h-1zM766 657h1v1h-1zM767 656h1v1h-1zM771 656h1v1h-1zM772 656h1v1h-1zM773 656h1v1h-1zM777 656h1v1h-1zM778 656h1v1h-1zM779 656h1v1h-1zM783 655h1v1h-1zM784 655h1v1h-1zM785 655h1v1h-1zM789 655h1v1h-1zM790 655h1v1h-1zM791 654h1v1h-1zM795 654h1v1h-1zM796 654h1v1h-1zM797 654h1v1h-1zM801 654h1v1h-1zM802 654h1v1h-1zM803 654h1v1h-1zM807 654h1v1h-1zM808 654h1v1h-1zM809 654h1v1h-1zM813 654h1v1h-1zM814 654h1v1h-1zM815 654h1v1h-1zM819 654h1v1h-1zM820 654h1v1h-1zM821 653h1v1h-1zM825 652h1v1h-1zM826 651h1v1h-1zM827 651h1v1h-1zM831 650h1v1h-1zM832 650h1v1h-1zM833 649h1v1h-1zM837 648h1v1h-1zM838 648h1v1h-1zM839 648h1v1h-1zM843 647h1v1h-1zM844 647h1v1h-1zM845 646h1v1h-1zM849 645h1v1h-1zM850 645h1v1h-1zM851 645h1v1h-1zM855 644h1v1h-1zM856 644h1v1h-1zM857 643h1v1h-1zM861 642h1v1h-1zM862 642h1v1h-1zM863 642h1v1h-1zM867 641h1v1h-1zM868 641h1v1h-1zM869 641h1v1h-1zM873 640h1v1h-1zM874 640h1v1h-1zM875 640h1v1h-1zM879 639h1v1h-1zM880 639h1v1h-1zM881 638h1v1h-1zM885 638h1v1h-1zM886 638h1v1h-1zM887 637h1v1h-1zM891 637h1v1h-1zM892 637h1v1h-1zM893 637h1v1h-1zM897 637h1v1h-1zM898 637h1v1h-1zM899 637h1v1h-1zM903 638h1v1h-1zM904 638h1v1h-1zM905 638h1v1h-1zM909 638h1v1h-1zM910 638h1v1h-1zM911 639h1v1h-1zM915 639h1v1h-1zM916 639h1v1h-1zM917 639h1v1h-1zM921 640h1v1h-1zM922 640h1v1h-1zM923 640h1v1h-1zM927 641h1v1h-1zM928 641h1v1h-1zM929 641h1v1h-1zM933 642h1v1h-1zM934 642h1v1h-1zM935 642h1v1h-1zM939 643h1v1h-1zM940 643h1v1h-1zM941 643h1v1h-1zM945 644h1v1h-1zM946 644h1v1h-1zM947 644h1v1h-1zM951 645h1v1h-1zM952 645h1v1h-1zM953 646h1v1h-1zM957 647h1v1h-1zM958 647h1v1h-1zM959 648h1v1h-1zM963 649h1v1h-1zM964 649h1v1h-1zM965 649h1v1h-1zM969 649h1v1h-1zM970 649h1v1h-1zM971 649h1v1h-1zM975 650h1v1h-1zM976 650h1v1h-1zM977 650h1v1h-1zM981 650h1v1h-1zM982 650h1v1h-1zM983 651h1v1h-1zM987 651h1v1h-1zM988 651h1v1h-1zM989 652h1v1h-1zM993 653h1v1h-1zM994 653h1v1h-1zM995 653h1v1h-1zM999 654h1v1h-1zM1000 654h1v1h-1zM1001 654h1v1h-1zM1005 654h1v1h-1zM1006 654h1v1h-1zM1007 655h1v1h-1zM1011 655h1v1h-1zM1012 655h1v1h-1zM1013 655h1v1h-1zM1017 655h1v1h-1zM1018 655h1v1h-1zM1019 655h1v1h-1zM1023 656h1v1h-1zM1024 656h1v1h-1zM1025 656h1v1h-1zM1029 656h1v1h-1zM1030 656h1v1h-1zM1031 656h1v1h-1zM1035 656h1v1h-1zM1036 656h1v1h-1zM1037 656h1v1h-1zM1041 657h1v1h-1zM1042 657h1v1h-1zM1043 657h1v1h-1zM1047 657h1v1h-1zM1048 657h1v1h-1zM1049 657h1v1h-1zM1053 657h1v1h-1zM1054 657h1v1h-1zM1055 657h1v1h-1zM1059 657h1v1h-1zM1060 657h1v1h-1zM1061 657h1v1h-1zM1065 657h1v1h-1zM1066 657h1v1h-1zM1067 657h1v1h-1zM1071 657h1v1h-1zM1072 657h1v1h-1zM1073 657h1v1h-1zM1077 657h1v1h-1zM1078 657h1v1h-1zM1079 657h1v1h-1zM1083 657h1v1h-1zM1084 657h1v1h-1zM1085 657h1v1h-1zM1089 657h1v1h-1zM1090 657h1v1h-1zM1091 657h1v1h-1zM1095 656h1v1h-1zM1096 656h1v1h-1zM1097 656h1v1h-1zM1101 656h1v1h-1zM1102 656h1v1h-1zM1103 657h1v1h-1zM1107 657h1v1h-1zM1108 657h1v1h-1zM1109 657h1v1h-1zM1113 657h1v1h-1zM1114 657h1v1h-1zM1115 657h1v1h-1zM1119 657h1v1h-1zM1120 657h1v1h-1zM1121 657h1v1h-1zM1125 657h1v1h-1zM1126 657h1v1h-1zM1127 657h1v1h-1zM1131 657h1v1h-1zM1132 657h1v1h-1zM1133 657h1v1h-1zM1137 657h1v1h-1zM1138 657h1v1h-1zM1139 657h1v1h-1zM1143 656h1v1h-1zM1144 656h1v1h-1zM1145 656h1v1h-1zM1149 656h1v1h-1zM1150 656h1v1h-1zM1151 656h1v1h-1zM1155 656h1v1h-1zM1156 656h1v1h-1zM1157 656h1v1h-1zM1161 656h1v1h-1zM1162 656h1v1h-1zM1163 656h1v1h-1zM1167 655h1v1h-1zM1168 655h1v1h-1zM1169 655h1v1h-1zM1173 655h1v1h-1zM1174 655h1v1h-1zM1175 655h1v1h-1zM1179 655h1v1h-1zM1180 655h1v1h-1zM1181 655h1v1h-1zM1185 655h1v1h-1zM1186 655h1v1h-1zM1187 655h1v1h-1zM1191 654h1v1h-1zM1192 654h1v1h-1zM1193 654h1v1h-1zM1197 654h1v1h-1zM1198 654h1v1h-1zM1199 654h1v1h-1zM1203 654h1v1h-1zM1204 654h1v1h-1zM1205 654h1v1h-1zM1209 653h1v1h-1zM1210 653h1v1h-1zM1211 653h1v1h-1zM1215 652h1v1h-1zM1216 652h1v1h-1zM1217 652h1v1h-1zM1221 652h1v1h-1zM1222 652h1v1h-1zM1223 652h1v1h-1zM1227 652h1v1h-1zM1228 652h1v1h-1zM1229 652h1v1h-1zM1233 652h1v1h-1zM1234 652h1v1h-1zM1235 652h1v1h-1zM1239 652h1v1h-1zM1240 652h1v1h-1zM1241 652h1v1h-1zM1245 652h1v1h-1zM1246 652h1v1h-1zM1247 652h1v1h-1zM1251 652h1v1h-1zM1252 652h1v1h-1zM1253 652h1v1h-1zM1257 652h1v1h-1zM1258 652h1v1h-1zM1259 652h1v1h-1z" fill="#FF0000" shape-rendering="crispEdges"/></svg><svg width="1638" height="768" style="position:absolute;left:0;top:0" font-family='"Liberation Sans", sans-serif'><rect x="1597" y="53" width="41" height="11" fill="#FF0000"/><rect x="1597" y="64" width="41" height="10" fill="#000000"/><rect x="1597" y="79" width="41" height="11" fill="#00FF00"/><rect x="1597" y="108" width="41" height="11" fill="#0000FF"/><rect x="1597" y="135" width="41" height="11" fill="#0000FF"/><rect x="1597" y="162" width="41" height="11" fill="#0000FF"/><rect x="1597" y="198" width="41" height="11" fill="#0000FF"/><rect x="1597" y="244" width="41" height="11" fill="#0000FF"/><path d="M6,34 L13,34 L9.5,38 Z" fill="#000"/><path d="M1271,28 L1280,28 L1275.5,33 Z" fill="#B8B8B8"/><text transform="translate(19,39) scale(0.995,1)" font-size="9.75" fill="#000" stroke="#000" stroke-width="0.18" font-weight="normal" text-anchor="start" >AUDUSD,Daily</text><text transform="translate(90,39) scale(0.952,1)" font-size="9.75" fill="#000" stroke="#000" stroke-width="0.18" font-weight="normal" text-anchor="start" >0.71481 0.71773 0.71441 0.71670</text><text transform="translate(7,548) scale(0.965,1)" font-size="9.75" fill="#000" stroke="#000" stroke-width="0.18" font-weight="normal" text-anchor="start" >RSI(14) 65.4072</text><text transform="translate(7,642) scale(0.965,1)" font-size="9.75" fill="#000" stroke="#000" stroke-width="0.18" font-weight="normal" text-anchor="start" >MACD(12,26,9) 0.005581 0.006174</text><text transform="translate(1601,39) scale(0.965,1)" font-size="9.75" fill="#000" stroke="#000" stroke-width="0.18" font-weight="normal" text-anchor="start" >0.72885</text><text transform="translate(1601,105) scale(0.965,1)" font-size="9.75" fill="#000" stroke="#000" stroke-width="0.18" font-weight="normal" text-anchor="start" >0.70470</text><text transform="translate(1601,138) scale(0.965,1)" font-size="9.75" fill="#000" stroke="#000" stroke-width="0.18" font-weight="normal" text-anchor="start" >0.69245</text><text transform="translate(1601,237) scale(0.965,1)" font-size="9.75" fill="#000" stroke="#000" stroke-width="0.18" font-weight="normal" text-anchor="start" >0.65640</text><text transform="translate(1601,270) scale(0.965,1)" font-size="9.75" fill="#000" stroke="#000" stroke-width="0.18" font-weight="normal" text-anchor="start" >0.64415</text><text transform="translate(1601,303) scale(0.965,1)" font-size="9.75" fill="#000" stroke="#000" stroke-width="0.18" font-weight="normal" text-anchor="start" >0.63225</text><text transform="translate(1601,336) scale(0.965,1)" font-size="9.75" fill="#000" stroke="#000" stroke-width="0.18" font-weight="normal" text-anchor="start" >0.62000</text><text transform="translate(1601,369) scale(0.965,1)" font-size="9.75" fill="#000" stroke="#000" stroke-width="0.18" font-weight="normal" text-anchor="start" >0.60775</text><text transform="translate(1601,402) scale(0.965,1)" font-size="9.75" fill="#000" stroke="#000" stroke-width="0.18" font-weight="normal" text-anchor="start" >0.59585</text><text transform="translate(1601,435) scale(0.965,1)" font-size="9.75" fill="#000" stroke="#000" stroke-width="0.18" font-weight="normal" text-anchor="start" >0.58360</text><text transform="translate(1601,468) scale(0.965,1)" font-size="9.75" fill="#000" stroke="#000" stroke-width="0.18" font-weight="normal" text-anchor="start" >0.57170</text><text transform="translate(1601,501) scale(0.965,1)" font-size="9.75" fill="#000" stroke="#000" stroke-width="0.18" font-weight="normal" text-anchor="start" >0.55945</text><text transform="translate(1601,534) scale(0.965,1)" font-size="9.75" fill="#000" stroke="#000" stroke-width="0.18" font-weight="normal" text-anchor="start" >0.54755</text><text transform="translate(1601,62) scale(0.965,1)" font-size="9.75" fill="#FFFFFF" stroke="#FFFFFF" stroke-width="0.18" font-weight="normal" text-anchor="start" >0.72001</text><text transform="translate(1601,72) scale(0.965,1)" font-size="9.75" fill="#FFFFFF" stroke="#FFFFFF" stroke-width="0.18" font-weight="normal" text-anchor="start" >0.71670</text><text transform="translate(1601,88) scale(0.965,1)" font-size="9.75" fill="#FFFFFF" stroke="#FFFFFF" stroke-width="0.18" font-weight="normal" text-anchor="start" >0.71046</text><text transform="translate(1601,117) scale(0.965,1)" font-size="9.75" fill="#FFFFFF" stroke="#FFFFFF" stroke-width="0.18" font-weight="normal" text-anchor="start" >0.70007</text><text transform="translate(1601,144) scale(0.965,1)" font-size="9.75" fill="#FFFFFF" stroke="#FFFFFF" stroke-width="0.18" font-weight="normal" text-anchor="start" >0.69010</text><text transform="translate(1601,171) scale(0.965,1)" font-size="9.75" fill="#FFFFFF" stroke="#FFFFFF" stroke-width="0.18" font-weight="normal" text-anchor="start" >0.68017</text><text transform="translate(1601,207) scale(0.965,1)" font-size="9.75" fill="#FFFFFF" stroke="#FFFFFF" stroke-width="0.18" font-weight="normal" text-anchor="start" >0.66706</text><text transform="translate(1601,253) scale(0.965,1)" font-size="9.75" fill="#FFFFFF" stroke="#FFFFFF" stroke-width="0.18" font-weight="normal" text-anchor="start" >0.65020</text><text transform="translate(1599,546) scale(0.965,1)" font-size="9.75" fill="#000" stroke="#000" stroke-width="0.18" font-weight="normal" text-anchor="start" >100</text><text transform="translate(1599,567) scale(0.965,1)" font-size="9.75" fill="#000" stroke="#000" stroke-width="0.18" font-weight="normal" text-anchor="start" >70</text><text transform="translate(1599,603) scale(0.965,1)" font-size="9.75" fill="#000" stroke="#000" stroke-width="0.18" font-weight="normal" text-anchor="start" >30</text><text transform="translate(1599,624) scale(0.965,1)" font-size="9.75" fill="#000" stroke="#000" stroke-width="0.18" font-weight="normal" text-anchor="start" >0</text><text transform="translate(1599,640) scale(0.965,1)" font-size="9.75" fill="#000" stroke="#000" stroke-width="0.18" font-weight="normal" text-anchor="start" >0.015741</text><text transform="translate(1599,670) scale(0.965,1)" font-size="9.75" fill="#000" stroke="#000" stroke-width="0.18" font-weight="normal" text-anchor="start" >0.00</text><text transform="translate(1599,719) scale(0.965,1)" font-size="9.75" fill="#000" stroke="#000" stroke-width="0.18" font-weight="normal" text-anchor="start" >-0.024412</text><text transform="translate(2,734) scale(0.965,1)" font-size="9.75" fill="#000" stroke="#000" stroke-width="0.18" font-weight="normal" text-anchor="start" >4 Feb 2020</text><text transform="translate(66,734) scale(0.965,1)" font-size="9.75" fill="#000" stroke="#000" stroke-width="0.18" font-weight="normal" text-anchor="start" >13 Feb 2020</text><text transform="translate(130,734) scale(0.965,1)" font-size="9.75" fill="#000" stroke="#000" stroke-width="0.18" font-weight="normal" text-anchor="start" >22 Feb 2020</text><text transform="translate(194,734) scale(0.965,1)" font-size="9.75" fill="#000" stroke="#000" stroke-width="0.18" font-weight="normal" text-anchor="start" >3 Mar 2020</text><text transform="translate(258,734) scale(0.965,1)" font-size="9.75" fill="#000" stroke="#000" stroke-width="0.18" font-weight="normal" text-anchor="start" >12 Mar 2020</text><text transform="translate(322,734) scale(0.965,1)" font-size="9.75" fill="#000" stroke="#000" stroke-width="0.18" font-weight="normal" text-anchor="start" >21 Mar 2020</text><text transform="translate(386,734) scale(0.965,1)" font-size="9.75" fill="#000" stroke="#000" stroke-width="0.18" font-weight="normal" text-anchor="start" >31 Mar 2020</text><text transform="translate(450,734) scale(0.965,1)" font-size="9.75" fill="#000" stroke="#000" stroke-width="0.18" font-weight="normal" text-anchor="start" >9 Apr 2020</text><text transform="translate(514,734) scale(0.965,1)" font-size="9.75" fill="#000" stroke="#000" stroke-width="0.18" font-weight="normal" text-anchor="start" >18 Apr 2020</text><text transform="translate(578,734) scale(0.965,1)" font-size="9.75" fill="#000" stroke="#000" stroke-width="0.18" font-weight="normal" text-anchor="start" >28 Apr 2020</text><text transform="translate(642,734) scale(0.965,1)" font-size="9.75" fill="#000" stroke="#000" stroke-width="0.18" font-weight="normal" text-anchor="start" >7 May 2020</text><text transform="translate(706,734) scale(0.965,1)" font-size="9.75" fill="#000" stroke="#000" stroke-width="0.18" font-weight="normal" text-anchor="start" >16 May 2020</text><text transform="translate(770,734) scale(0.965,1)" font-size="9.75" fill="#000" stroke="#000" stroke-width="0.18" font-weight="normal" text-anchor="start" >26 May 2020</text><text transform="translate(834,734) scale(0.965,1)" font-size="9.75" fill="#000" stroke="#000" stroke-width="0.18" font-weight="normal" text-anchor="start" >4 Jun 2020</text><text transform="translate(898,734) scale(0.965,1)" font-size="9.75" fill="#000" stroke="#000" stroke-width="0.18" font-weight="normal" text-anchor="start" >13 Jun 2020</text><text transform="translate(962,734) scale(0.965,1)" font-size="9.75" fill="#000" stroke="#000" stroke-width="0.18" font-weight="normal" text-anchor="start" >23 Jun 2020</text><text transform="translate(1026,734) scale(0.965,1)" font-size="9.75" fill="#000" stroke="#000" stroke-width="0.18" font-weight="normal" text-anchor="start" >2 Jul 2020</text><text transform="translate(1090,734) scale(0.965,1)" font-size="9.75" fill="#000" stroke="#000" stroke-width="0.18" font-weight="normal" text-anchor="start" >11 Jul 2020</text><text transform="translate(1154,734) scale(0.965,1)" font-size="9.75" fill="#000" stroke="#000" stroke-width="0.18" font-weight="normal" text-anchor="start" >21 Jul 2020</text><text transform="translate(1218,734) scale(0.965,1)" font-size="9.75" fill="#000" stroke="#000" stroke-width="0.18" font-weight="normal" text-anchor="start" >30 Jul 2020</text></svg><div style="position:absolute;left:0;top:742px;width:1638px;height:1px;background:#E3E3E3"></div><div style="position:absolute;left:0;top:745px;width:1638px;height:19px;background:#F0F0F0"></div><div style="position:absolute;left:0;top:764px;width:1638px;height:1px;background:#FFFFFF"></div><div style="position:absolute;left:0;top:765px;width:1638px;height:3px;background:#F0F0F0"></div><div style="position:absolute;left:0;top:744px;width:1638px;height:1px;background:#000"></div><div style="position:absolute;left:208px;top:744px;width:102px;height:17px;background:#FFF;border:1px solid #000;border-top:none"></div><svg width="1638" height="768" style="position:absolute;left:0;top:0" font-family='"Liberation Sans", sans-serif'><text x="16.5" y="759" font-size="12" fill="#6D6D6D">EURUSD,Daily</text><text x="118.5" y="759" font-size="12" fill="#6D6D6D">USDCHF,Daily</text><text x="219.5" y="759" font-size="12" fill="#000">AUDUSD,Daily</text><text x="323.6" y="759" font-size="12" fill="#6D6D6D">USDCAD,Daily</text><text x="426" y="759" font-size="12" fill="#6D6D6D">USDCNH,Daily</text><text x="531" y="759" font-size="12" fill="#6D6D6D">EURUSD,M15</text><text x="631" y="759" font-size="12" fill="#6D6D6D">GBPUSD,M30</text><text x="730.8" y="759" font-size="12" fill="#6D6D6D">XAUUSD,H1</text><text x="823" y="759" font-size="12" fill="#6D6D6D">HK50,H1</text><text x="895" y="759" font-size="12" fill="#6D6D6D">UK100,H1</text><text x="975.6" y="759" font-size="12" fill="#6D6D6D">UK100,H1</text><text x="1055" y="759" font-size="12" fill="#6D6D6D">GER30,H1</text><text x="1134.6" y="759" font-size="12" fill="#6D6D6D">FRA40,H1</text><text x="1210" y="759" font-size="12" fill="#6D6D6D">USOil,Daily</text><text x="1294" y="759" font-size="12" fill="#6D6D6D">USDJPY,H1</text><text x="1379" y="759" font-size="12" fill="#6D6D6D">DJ30,M15</text><text x="1458" y="759" font-size="12" fill="#6D6D6D">CHINA300,H4</text><text x="1558" y="759" font-size="12" fill="#6D6D6D">USOil,H4</text><rect x="109" y="747" width="1" height="14" fill="#6A6A6A" shape-rendering="crispEdges"/><rect x="416" y="747" width="1" height="14" fill="#6A6A6A" shape-rendering="crispEdges"/><rect x="520" y="747" width="1" height="14" fill="#6A6A6A" shape-rendering="crispEdges"/><rect x="620" y="747" width="1" height="14" fill="#6A6A6A" shape-rendering="crispEdges"/><rect x="720" y="747" width="1" height="14" fill="#6A6A6A" shape-rendering="crispEdges"/><rect x="812" y="747" width="1" height="14" fill="#6A6A6A" shape-rendering="crispEdges"/><rect x="884" y="747" width="1" height="14" fill="#6A6A6A" shape-rendering="crispEdges"/><rect x="964" y="747" width="1" height="14" fill="#6A6A6A" shape-rendering="crispEdges"/><rect x="1044" y="747" width="1" height="14" fill="#6A6A6A" shape-rendering="crispEdges"/><rect x="1124" y="747" width="1" height="14" fill="#6A6A6A" shape-rendering="crispEdges"/><rect x="1200" y="747" width="1" height="14" fill="#6A6A6A" shape-rendering="crispEdges"/><rect x="1284" y="747" width="1" height="14" fill="#6A6A6A" shape-rendering="crispEdges"/><rect x="1368" y="747" width="1" height="14" fill="#6A6A6A" shape-rendering="crispEdges"/><rect x="1448" y="747" width="1" height="14" fill="#6A6A6A" shape-rendering="crispEdges"/><rect x="1549" y="747" width="1" height="14" fill="#6A6A6A" shape-rendering="crispEdges"/><rect x="1605" y="745" width="33" height="19" fill="#F0F0F0"/><path d="M1614,750 L1610,753.5 L1614,757 Z" fill="#A0A0A0"/><path d="M1629,749.5 L1633,753.5 L1629,757.5 Z" fill="#000"/></svg>
</body></html>
